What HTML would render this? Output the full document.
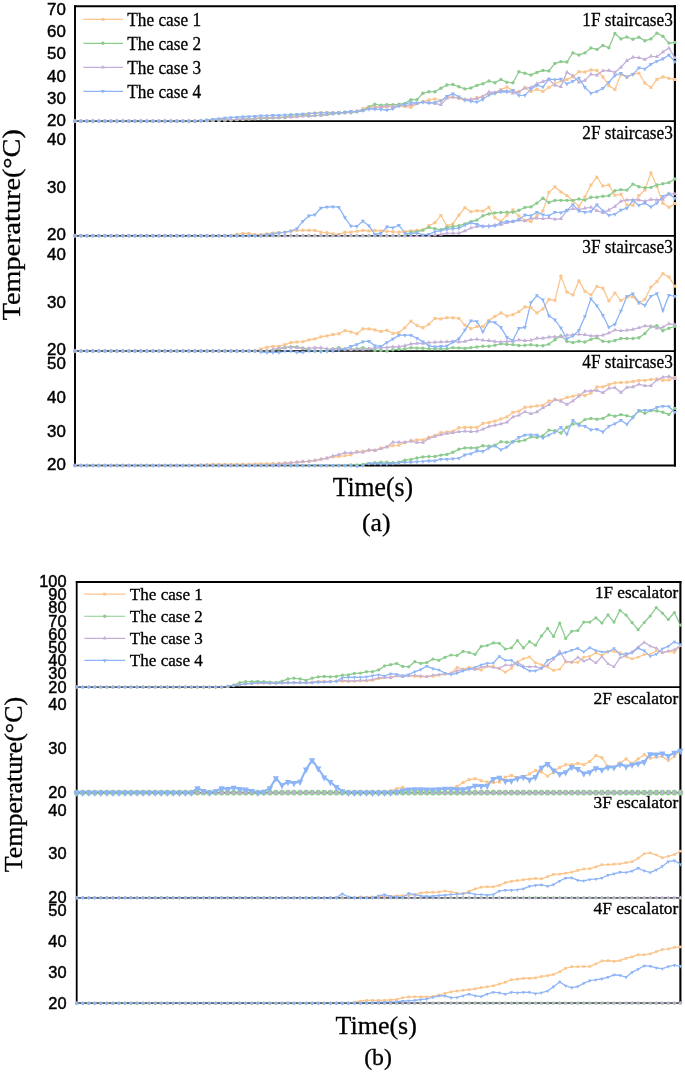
<!DOCTYPE html>
<html lang="en"><head><meta charset="utf-8"><title>Temperature vs time</title>
<style>html,body{margin:0;padding:0;background:#fff}body{width:685px;height:1072px;overflow:hidden}text{white-space:pre}</style></head>
<body>
<svg width="685" height="1072" viewBox="0 0 685 1072" style="display:block">
<rect width="685" height="1072" fill="#fff"/>
<defs>
<marker id="mo93" markerUnits="userSpaceOnUse" markerWidth="12" markerHeight="12" refX="0" refY="0" viewBox="-6 -6 12 12" orient="0" overflow="visible"><rect x="-1.5" y="-1.5" width="3" height="3" fill="#FBC58C"/></marker>
<marker id="mg93" markerUnits="userSpaceOnUse" markerWidth="12" markerHeight="12" refX="0" refY="0" viewBox="-6 -6 12 12" orient="0" overflow="visible"><circle cx="0" cy="0" r="1.7" fill="#8CCB8E"/></marker>
<marker id="mp93" markerUnits="userSpaceOnUse" markerWidth="12" markerHeight="12" refX="0" refY="0" viewBox="-6 -6 12 12" orient="0" overflow="visible"><path d="M-2 1.3L2 1.3L0 -2.5Z" fill="#C3AFD8"/></marker>
<marker id="mb93" markerUnits="userSpaceOnUse" markerWidth="12" markerHeight="12" refX="0" refY="0" viewBox="-6 -6 12 12" orient="0" overflow="visible"><path d="M-2 -1.3L2 -1.3L0 2.5Z" fill="#8DB4F6"/></marker>
<marker id="mo82" markerUnits="userSpaceOnUse" markerWidth="12" markerHeight="12" refX="0" refY="0" viewBox="-6 -6 12 12" orient="0" overflow="visible"><rect x="-1.3" y="-1.3" width="2.6" height="2.6" fill="#FBC58C"/></marker>
<marker id="mg84" markerUnits="userSpaceOnUse" markerWidth="12" markerHeight="12" refX="0" refY="0" viewBox="-6 -6 12 12" orient="0" overflow="visible"><circle cx="0" cy="0" r="1.6" fill="#8CCB8E"/></marker>
<marker id="mp82" markerUnits="userSpaceOnUse" markerWidth="12" markerHeight="12" refX="0" refY="0" viewBox="-6 -6 12 12" orient="0" overflow="visible"><path d="M-1.7 1.1L1.7 1.1L0 -2.2Z" fill="#C3AFD8"/></marker>
<marker id="mb82" markerUnits="userSpaceOnUse" markerWidth="12" markerHeight="12" refX="0" refY="0" viewBox="-6 -6 12 12" orient="0" overflow="visible"><path d="M-1.7 -1.1L1.7 -1.1L0 2.2Z" fill="#8DB4F6"/></marker>
<marker id="mg157" markerUnits="userSpaceOnUse" markerWidth="12" markerHeight="12" refX="0" refY="0" viewBox="-6 -6 12 12" orient="0" overflow="visible"><circle cx="0" cy="0" r="2.9" fill="#8CCB8E"/></marker>
<marker id="mp110" markerUnits="userSpaceOnUse" markerWidth="12" markerHeight="12" refX="0" refY="0" viewBox="-6 -6 12 12" orient="0" overflow="visible"><path d="M-2.3 1.5L2.3 1.5L0 -3Z" fill="#C3AFD8"/></marker>
<marker id="mb160" markerUnits="userSpaceOnUse" markerWidth="12" markerHeight="12" refX="0" refY="0" viewBox="-6 -6 12 12" orient="0" overflow="visible"><path d="M-3.1 -1.9L3.1 -1.9L0 4.3Z" fill="#8DB4F6"/></marker>
</defs>
<g id="series-lines">
<polyline points="74.9,121.1 80.9,121.1 86.9,121.1 92.9,121.1 98.9,121.1 104.9,121.1 110.9,121.1 116.9,121.1 122.9,121.1 128.9,121.1 134.9,121.1 140.9,121.1 146.9,121.1 152.9,121.1 158.9,121.1 164.9,121.1 170.9,121.1 176.9,121.1 182.9,121.1 188.9,121.1 194.9,121.1 200.9,120.7 206.9,120.5 212.9,120.3 218.9,120.1 224.9,119.9 230.9,119.8 236.9,119.4 242.9,119.1 248.9,118.8 254.9,118.4 260.9,118.1 266.9,117.9 272.9,117.6 278.9,117.4 284.9,117.2 290.9,116.9 296.9,116.7 302.9,115.2 308.9,113.4 314.9,113 320.9,112.6 326.9,112.6 332.9,112.6 338.9,112.5 344.9,112.2 350.9,111.6 356.9,111.3 362.9,108.7 368.9,106.9 374.9,106.9 380.9,107.4 386.9,106.9 392.9,106.4 398.9,105.7 404.9,106.4 410.9,107.4 416.9,103.4 422.9,101.7 428.9,99.9 434.9,99 440.9,100.8 446.9,97.3 452.9,96.9 458.9,98.6 464.9,100 470.9,99.4 476.9,97.7 482.9,96.5 488.9,93.3 494.9,93.3 500.9,89.6 506.9,87 512.9,90.4 518.9,92.3 524.9,87.4 530.9,91.4 536.9,89.3 542.9,91.4 548.9,87.4 554.9,83.8 560.9,80.9 566.9,79.5 572.9,76.9 578.9,71.7 584.9,72 590.9,69.9 596.9,70.4 602.9,76.9 608.9,85.7 614.9,89.5 620.9,74.3 626.9,77.4 632.9,74.3 638.9,73.1 644.9,83 650.9,87.4 656.9,79.5 662.9,76.9 668.9,78.3 674.9,79.5" fill="none" stroke="#FBC58C" stroke-width="1.15" stroke-linejoin="round"/>
<polyline points="74.9,121.1 80.9,121.1 86.9,121.1 92.9,121.1 98.9,121.1 104.9,121.1 110.9,121.1 116.9,121.1 122.9,121.1 128.9,121.1 134.9,121.1 140.9,121.1 146.9,121.1 152.9,121.1 158.9,121.1 164.9,121.1 170.9,121.1 176.9,121.1 182.9,121.1 188.9,121.1 194.9,121.1 200.9,120.7 206.9,120.5 212.9,120.4 218.9,120.3 224.9,120.1 230.9,120.1 236.9,119.7 242.9,119.4 248.9,119.1 254.9,118.7 260.9,118.4 266.9,118.2 272.9,117.9 278.9,117.7 284.9,117.5 290.9,115 296.9,114.8 302.9,114.4 308.9,116 314.9,115.6 320.9,115.2 326.9,114.6 332.9,113.9 338.9,113.2 344.9,112.2 350.9,112.7 356.9,111.6 362.9,110.4 368.9,106.9 374.9,104.3 380.9,105.3 386.9,104.6 392.9,104.6 398.9,104.3 404.9,103.4 410.9,99.6 416.9,99.6 422.9,93.3 428.9,91.7 434.9,91.7 440.9,88.2 446.9,85 452.9,84.5 458.9,86.8 464.9,88.9 470.9,88 476.9,85.4 482.9,83.7 488.9,81 494.9,82.8 500.9,79.4 506.9,82.3 512.9,82.8 518.9,71.8 524.9,73.3 530.9,75 536.9,72.4 542.9,70.4 548.9,70.9 554.9,63.4 560.9,61.6 566.9,62 572.9,52.9 578.9,55 584.9,52.9 590.9,48 596.9,49.4 602.9,45.4 608.9,47.7 614.9,33.5 620.9,38.9 626.9,37 632.9,39.3 638.9,37.2 644.9,40.7 650.9,38.9 656.9,33.1 662.9,36.3 668.9,43.1 674.9,42.4" fill="none" stroke="#8CCB8E" stroke-width="1.15" stroke-linejoin="round"/>
<polyline points="74.9,121.1 80.9,121.1 86.9,121.1 92.9,121.1 98.9,121.1 104.9,121.1 110.9,121.1 116.9,121.1 122.9,121.1 128.9,121.1 134.9,121.1 140.9,121.1 146.9,121.1 152.9,121.1 158.9,121.1 164.9,121.1 170.9,121.1 176.9,121.1 182.9,121.1 188.9,121.1 194.9,121.1 200.9,120.7 206.9,120.5 212.9,120.3 218.9,120.1 224.9,119.9 230.9,119.8 236.9,119.4 242.9,119.1 248.9,118.8 254.9,118.4 260.9,118.1 266.9,117.9 272.9,117.6 278.9,117.4 284.9,117.2 290.9,116.9 296.9,116.7 302.9,116.3 308.9,115.9 314.9,115.5 320.9,115.1 326.9,114.5 332.9,113.8 338.9,113.2 344.9,113 350.9,112.2 356.9,111.3 362.9,110.4 368.9,108.7 374.9,107.8 380.9,106.9 386.9,106 392.9,106.4 398.9,106 404.9,105.7 410.9,104.6 416.9,103.4 422.9,102 428.9,102.5 434.9,103.4 440.9,104.8 446.9,98.2 452.9,97.3 458.9,97.7 464.9,99.4 470.9,99.4 476.9,98.6 482.9,96.5 488.9,92.1 494.9,92.4 500.9,90.4 506.9,91.1 512.9,93.3 518.9,91.8 524.9,88.2 530.9,87.4 536.9,83.8 542.9,81.6 548.9,79.4 554.9,85.3 560.9,86.7 566.9,72.2 572.9,75.7 578.9,82.2 584.9,80.4 590.9,74.3 596.9,75.2 602.9,70.8 608.9,70.4 614.9,72.5 620.9,67.3 626.9,60.6 632.9,57.3 638.9,57.7 644.9,59.4 650.9,56.3 656.9,56.8 662.9,51.9 668.9,48 674.9,57.7" fill="none" stroke="#C3AFD8" stroke-width="1.15" stroke-linejoin="round"/>
<polyline points="74.9,121.1 80.9,121.1 86.9,121.1 92.9,121.1 98.9,121.1 104.9,121.1 110.9,121.1 116.9,121.1 122.9,121.1 128.9,121.1 134.9,121.1 140.9,121.1 146.9,121.1 152.9,121.1 158.9,121.1 164.9,121.1 170.9,121.1 176.9,121.1 182.9,121.1 188.9,121.1 194.9,121.1 200.9,120.7 206.9,120 212.9,119.4 218.9,118.8 224.9,118.1 230.9,117.6 236.9,117.2 242.9,116.9 248.9,116.6 254.9,116.2 260.9,115.9 266.9,115.7 272.9,115.4 278.9,115.2 284.9,115 290.9,114.7 296.9,114.5 302.9,114.1 308.9,113.7 314.9,113.3 320.9,113 326.9,112.8 332.9,112.7 338.9,112.6 344.9,112.2 350.9,111.3 356.9,111.8 362.9,110.4 368.9,109.2 374.9,109.2 380.9,109.5 386.9,110.1 392.9,108.7 398.9,105.7 404.9,104.3 410.9,102.5 416.9,103.1 422.9,102.2 428.9,103.1 434.9,102.5 440.9,100.8 446.9,96.4 452.9,93.8 458.9,96.8 464.9,100 470.9,101.2 476.9,102.1 482.9,99.4 488.9,95.1 494.9,93.3 500.9,91.8 506.9,91.8 512.9,90.4 518.9,95.5 524.9,95.2 530.9,89.3 536.9,85.3 542.9,87 548.9,79.1 554.9,79.7 560.9,79.1 566.9,83.9 572.9,81.3 578.9,78.1 584.9,87.4 590.9,93.2 596.9,91.5 602.9,88.3 608.9,82.2 614.9,75.5 620.9,73.4 626.9,76.9 632.9,74.3 638.9,67.8 644.9,69 650.9,64.3 656.9,61.2 662.9,58.9 668.9,55 674.9,61.7" fill="none" stroke="#8DB4F6" stroke-width="1.15" stroke-linejoin="round"/>
<polyline points="74.9,235.8 80.9,235.8 86.9,235.8 92.9,235.8 98.9,235.8 104.9,235.8 110.9,235.8 116.9,235.8 122.9,235.8 128.9,235.8 134.9,235.8 140.9,235.8 146.9,235.8 152.9,235.8 158.9,235.8 164.9,235.8 170.9,235.8 176.9,235.8 182.9,235.8 188.9,235.8 194.9,235.8 200.9,235.8 206.9,235.8 212.9,235.8 218.9,235.8 224.9,235.8 230.9,235.8 236.9,234.3 242.9,233.4 248.9,233.4 254.9,234.6 260.9,234.6 266.9,233.9 272.9,233.1 278.9,232.5 284.9,232.2 290.9,231.1 296.9,230.4 302.9,230.3 308.9,230.3 314.9,230.4 320.9,232.2 326.9,232.7 332.9,233.9 338.9,234.4 344.9,232.3 350.9,232.2 356.9,231.3 362.9,230.4 368.9,230.9 374.9,230.4 380.9,230.9 386.9,231.3 392.9,231.8 398.9,232.2 404.9,231.6 410.9,230.9 416.9,230.4 422.9,230.1 428.9,225.7 434.9,222.7 440.9,215.5 446.9,225.7 452.9,223.9 458.9,215.2 464.9,207.8 470.9,211.7 476.9,210.8 482.9,211.1 488.9,207.3 494.9,217.8 500.9,221.3 506.9,215.2 512.9,209.9 518.9,216 524.9,220.4 530.9,221.5 536.9,215.7 542.9,210.9 548.9,192.4 554.9,186.8 560.9,192 566.9,195.5 572.9,200.8 578.9,206.4 584.9,196.9 590.9,185 596.9,177.2 602.9,186 608.9,185 614.9,195.2 620.9,194.3 626.9,205 632.9,205.3 638.9,195.5 644.9,190.1 650.9,172.8 656.9,186.4 662.9,203.2 668.9,207.2 674.9,203.5" fill="none" stroke="#FBC58C" stroke-width="1.15" stroke-linejoin="round"/>
<polyline points="74.9,235.8 80.9,235.8 86.9,235.8 92.9,235.8 98.9,235.8 104.9,235.8 110.9,235.8 116.9,235.8 122.9,235.8 128.9,235.8 134.9,235.8 140.9,235.8 146.9,235.8 152.9,235.8 158.9,235.8 164.9,235.8 170.9,235.8 176.9,235.8 182.9,235.8 188.9,235.8 194.9,235.8 200.9,235.8 206.9,235.8 212.9,235.8 218.9,235.8 224.9,235.8 230.9,235.8 236.9,235.8 242.9,235.8 248.9,235.8 254.9,235.8 260.9,235.8 266.9,235.8 272.9,235.8 278.9,235.8 284.9,235.8 290.9,235.8 296.9,235.8 302.9,235.8 308.9,235.8 314.9,235.8 320.9,235.8 326.9,235.8 332.9,235.8 338.9,235.8 344.9,235.8 350.9,235.8 356.9,235.8 362.9,235.8 368.9,235.8 374.9,235.8 380.9,235.8 386.9,235.8 392.9,235.8 398.9,235.8 404.9,235.8 410.9,232.2 416.9,231.6 422.9,230.1 428.9,227.4 434.9,228.7 440.9,229.7 446.9,227.4 452.9,226.5 458.9,225.7 464.9,223.9 470.9,221.6 476.9,220.1 482.9,215.7 488.9,213.9 494.9,212.9 500.9,212.5 506.9,212.2 512.9,212.2 518.9,210.3 524.9,207.4 530.9,206.9 536.9,203.1 542.9,198.2 548.9,202.5 554.9,200.4 560.9,200.4 566.9,200.4 572.9,200.4 578.9,199 584.9,200.1 590.9,197.2 596.9,197.2 602.9,196.2 608.9,195.8 614.9,190.8 620.9,189.6 626.9,190.1 632.9,184.1 638.9,186.7 644.9,187.7 650.9,187.4 656.9,185 662.9,183.8 668.9,182.6 674.9,179" fill="none" stroke="#8CCB8E" stroke-width="1.15" stroke-linejoin="round"/>
<polyline points="74.9,235.8 80.9,235.8 86.9,235.8 92.9,235.8 98.9,235.8 104.9,235.8 110.9,235.8 116.9,235.8 122.9,235.8 128.9,235.8 134.9,235.8 140.9,235.8 146.9,235.8 152.9,235.8 158.9,235.8 164.9,235.8 170.9,235.8 176.9,235.8 182.9,235.8 188.9,235.8 194.9,235.8 200.9,235.8 206.9,235.8 212.9,235.8 218.9,235.8 224.9,235.8 230.9,235.8 236.9,235.8 242.9,235.8 248.9,235.8 254.9,235.8 260.9,235.8 266.9,235.8 272.9,235.8 278.9,235.8 284.9,235.8 290.9,235.8 296.9,235.8 302.9,235.8 308.9,235.8 314.9,235.8 320.9,235.8 326.9,235.8 332.9,235.8 338.9,235.8 344.9,235.8 350.9,235.8 356.9,235.8 362.9,235.8 368.9,235.8 374.9,235.8 380.9,235.8 386.9,235.8 392.9,235.8 398.9,235.8 404.9,235.8 410.9,235.8 416.9,235.8 422.9,235.8 428.9,235.8 434.9,235 440.9,234.4 446.9,233.2 452.9,233.2 458.9,233.2 464.9,230.9 470.9,228 476.9,226.5 482.9,226.2 488.9,225.7 494.9,225.1 500.9,224.8 506.9,222.7 512.9,221.6 518.9,220.1 524.9,220.9 530.9,218.3 536.9,218.3 542.9,218.7 548.9,218 554.9,219.2 560.9,218.7 566.9,210.4 572.9,208.7 578.9,209.5 584.9,208.2 590.9,207.2 596.9,210.8 602.9,212.6 608.9,210.1 614.9,206.4 620.9,201.3 626.9,199.9 632.9,199.9 638.9,199.9 644.9,201.3 650.9,199.4 656.9,199.9 662.9,199.4 668.9,194 674.9,194" fill="none" stroke="#C3AFD8" stroke-width="1.15" stroke-linejoin="round"/>
<polyline points="74.9,235.8 80.9,235.8 86.9,235.8 92.9,235.8 98.9,235.8 104.9,235.8 110.9,235.8 116.9,235.8 122.9,235.8 128.9,235.8 134.9,235.8 140.9,235.8 146.9,235.8 152.9,235.8 158.9,235.8 164.9,235.8 170.9,235.8 176.9,235.8 182.9,235.8 188.9,235.8 194.9,235.8 200.9,235.8 206.9,235.8 212.9,235.8 218.9,235.8 224.9,235.8 230.9,235.8 236.9,235.8 242.9,235.8 248.9,235.8 254.9,235.8 260.9,235.8 266.9,234.6 272.9,233.9 278.9,233.1 284.9,232.2 290.9,231.1 296.9,228.7 302.9,221.2 308.9,215.9 314.9,214.7 320.9,208 326.9,207.1 332.9,206.8 338.9,207.3 344.9,217.6 350.9,226 356.9,226.4 362.9,221.1 368.9,225.7 374.9,234.4 380.9,233.4 386.9,226.9 392.9,227.8 398.9,225.2 404.9,233 410.9,233.9 416.9,232.7 422.9,235 428.9,234.4 434.9,231.8 440.9,230.6 446.9,229.2 452.9,228.7 458.9,228.3 464.9,225.1 470.9,222.7 476.9,224.4 482.9,226.2 488.9,226.5 494.9,225.7 500.9,222.7 506.9,221.6 512.9,221.3 518.9,219.5 524.9,215.1 530.9,215.7 536.9,212.2 542.9,214.8 548.9,215.7 554.9,212.2 560.9,212.7 566.9,210.4 572.9,204.6 578.9,210.9 584.9,212.3 590.9,211.5 596.9,204.7 602.9,210.8 608.9,215.2 614.9,214.2 620.9,210.1 626.9,208.3 632.9,200.6 638.9,205.3 644.9,203.1 650.9,206.9 656.9,203.1 662.9,196.2 668.9,193.7 674.9,198.4" fill="none" stroke="#8DB4F6" stroke-width="1.15" stroke-linejoin="round"/>
<polyline points="74.9,351 80.9,351 86.9,351 92.9,351 98.9,351 104.9,351 110.9,351 116.9,351 122.9,351 128.9,351 134.9,351 140.9,351 146.9,351 152.9,351 158.9,351 164.9,351 170.9,351 176.9,351 182.9,351 188.9,351 194.9,351 200.9,351 206.9,351 212.9,351 218.9,351 224.9,351 230.9,351 236.9,351 242.9,351 248.9,351 254.9,351 260.9,349 266.9,347.3 272.9,346.4 278.9,346.4 284.9,344.7 290.9,342.6 296.9,342 302.9,341.7 308.9,339.9 314.9,338.9 320.9,336.8 326.9,335.9 332.9,334.5 338.9,333.8 344.9,330.6 350.9,332 356.9,333.8 362.9,328.9 368.9,328.9 374.9,329.9 380.9,331.5 386.9,330.3 392.9,333.4 398.9,332.6 404.9,327.7 410.9,321.2 416.9,325.4 422.9,327.7 428.9,324.2 434.9,318.4 440.9,318.9 446.9,317.7 452.9,317.8 458.9,318.3 464.9,325.1 470.9,328.7 476.9,326.5 482.9,326.5 488.9,320.4 494.9,316.4 500.9,312.9 506.9,316 512.9,314.6 518.9,311.7 524.9,306.9 530.9,307.6 536.9,312.9 542.9,309 548.9,299.4 554.9,300.3 560.9,276.1 566.9,292.1 572.9,294.9 578.9,280.9 584.9,291.3 590.9,294.9 596.9,286.5 602.9,288.3 608.9,300.9 614.9,293 620.9,300.5 626.9,297 632.9,296.7 638.9,303.2 644.9,299.3 650.9,287 656.9,281.6 662.9,273.7 668.9,276.9 674.9,286.2" fill="none" stroke="#FBC58C" stroke-width="1.15" stroke-linejoin="round"/>
<polyline points="74.9,351 80.9,351 86.9,351 92.9,351 98.9,351 104.9,351 110.9,351 116.9,351 122.9,351 128.9,351 134.9,351 140.9,351 146.9,351 152.9,351 158.9,351 164.9,351 170.9,351 176.9,351 182.9,351 188.9,351 194.9,351 200.9,351 206.9,351 212.9,351 218.9,351 224.9,351 230.9,351 236.9,351 242.9,351 248.9,351 254.9,351 260.9,351 266.9,351 272.9,351 278.9,349 284.9,347.6 290.9,346.9 296.9,346.9 302.9,348.2 308.9,349.9 314.9,351 320.9,351 326.9,351 332.9,349 338.9,347.8 344.9,349.5 350.9,349.5 356.9,348.7 362.9,347.8 368.9,348.7 374.9,350.4 380.9,350.4 386.9,351 392.9,349.9 398.9,349.2 404.9,348.7 410.9,347.8 416.9,348.1 422.9,348.3 428.9,348.7 434.9,348.7 440.9,348.7 446.9,348.7 452.9,347.6 458.9,347.9 464.9,348.4 470.9,347.6 476.9,347 482.9,346.3 488.9,346.2 494.9,345.3 500.9,343.7 506.9,344.4 512.9,344.6 518.9,345.5 524.9,345.3 530.9,344.8 536.9,345.5 542.9,345.8 548.9,344.1 554.9,339.7 560.9,335.7 566.9,341.2 572.9,342.6 578.9,341.2 584.9,342 590.9,339.4 596.9,337.8 602.9,341.2 608.9,341.7 614.9,340.5 620.9,338.5 626.9,338.5 632.9,338.5 638.9,337.8 644.9,333.5 650.9,326.8 656.9,325.6 662.9,330.7 668.9,328.2 674.9,326.3" fill="none" stroke="#8CCB8E" stroke-width="1.15" stroke-linejoin="round"/>
<polyline points="74.9,351 80.9,351 86.9,351 92.9,351 98.9,351 104.9,351 110.9,351 116.9,351 122.9,351 128.9,351 134.9,351 140.9,351 146.9,351 152.9,351 158.9,351 164.9,351 170.9,351 176.9,351 182.9,351 188.9,351 194.9,351 200.9,351 206.9,351 212.9,351 218.9,351 224.9,351 230.9,351 236.9,351 242.9,351 248.9,351 254.9,351 260.9,351 266.9,351 272.9,349.4 278.9,348.2 284.9,347.6 290.9,347.3 296.9,347.6 302.9,348.2 308.9,348.2 314.9,347.8 320.9,347.8 326.9,348.7 332.9,349 338.9,348.7 344.9,349 350.9,349.5 356.9,349.2 362.9,349.5 368.9,348.7 374.9,347.8 380.9,347.8 386.9,347.4 392.9,346.9 398.9,346.6 404.9,345.7 410.9,343.9 416.9,343.4 422.9,343.4 428.9,342.5 434.9,342.2 440.9,342 446.9,341.7 452.9,341.4 458.9,342 464.9,341.4 470.9,339.7 476.9,339.2 482.9,340.2 488.9,340.6 494.9,341.4 500.9,342 506.9,341.4 512.9,341.4 518.9,340 524.9,340.6 530.9,340.2 536.9,338.3 542.9,338.3 548.9,337.1 554.9,336.7 560.9,336.7 566.9,335.2 572.9,334.7 578.9,334.2 584.9,334.7 590.9,335.9 596.9,335.9 602.9,335.2 608.9,332.9 614.9,330 620.9,330.8 626.9,330.3 632.9,329.4 638.9,327.7 644.9,325.9 650.9,326.3 656.9,328.2 662.9,327.3 668.9,323.8 674.9,324.7" fill="none" stroke="#C3AFD8" stroke-width="1.15" stroke-linejoin="round"/>
<polyline points="74.9,351 80.9,351 86.9,351 92.9,351 98.9,351 104.9,351 110.9,351 116.9,351 122.9,351 128.9,351 134.9,351 140.9,351 146.9,351 152.9,351 158.9,351 164.9,351 170.9,351 176.9,351 182.9,351 188.9,351 194.9,351 200.9,351 206.9,351 212.9,351 218.9,351 224.9,351 230.9,351 236.9,351 242.9,351 248.9,351 254.9,351 260.9,352 266.9,352.5 272.9,352.5 278.9,352.5 284.9,351 290.9,351 296.9,352.2 302.9,352.2 308.9,351 314.9,351 320.9,351.7 326.9,351 332.9,351 338.9,350.1 344.9,349 350.9,346.4 356.9,344.6 362.9,341.7 368.9,341.3 374.9,345.7 380.9,346.4 386.9,342.5 392.9,339 398.9,335.2 404.9,335.2 410.9,335.2 416.9,338.2 422.9,341.7 428.9,345.7 434.9,346.9 440.9,346.4 446.9,346 452.9,342 458.9,338.8 464.9,330.1 470.9,320.8 476.9,321.6 482.9,331.8 488.9,321.6 494.9,322.5 500.9,327.4 506.9,337.4 512.9,340.6 518.9,328.3 524.9,327.4 530.9,302.6 536.9,295.6 542.9,299.9 548.9,315.7 554.9,319.9 560.9,328 566.9,338.7 572.9,335.9 578.9,330.3 584.9,316.6 590.9,298.8 596.9,305.8 602.9,315.4 608.9,327.2 614.9,324.2 620.9,311 626.9,296.5 632.9,293.9 638.9,302.3 644.9,305.4 650.9,296.2 656.9,293.5 662.9,310.7 668.9,295.3 674.9,296.2" fill="none" stroke="#8DB4F6" stroke-width="1.15" stroke-linejoin="round"/>
<polyline points="74.9,465.5 80.9,465.5 86.9,465.5 92.9,465.5 98.9,465.5 104.9,465.5 110.9,465.5 116.9,465.5 122.9,465.5 128.9,465.5 134.9,465.5 140.9,465.5 146.9,465.5 152.9,465.5 158.9,465.5 164.9,465.5 170.9,465.5 176.9,465.5 182.9,465.5 188.9,465.5 194.9,465.5 200.9,465 206.9,464.6 212.9,464.4 218.9,464.4 224.9,464.4 230.9,464.4 236.9,464.4 242.9,464.3 248.9,464.3 254.9,464.1 260.9,463.9 266.9,463.7 272.9,463.6 278.9,463.4 284.9,463 290.9,462.7 296.9,462.2 302.9,461.6 308.9,461.3 314.9,460.4 320.9,459.2 326.9,458.1 332.9,456.9 338.9,456.4 344.9,455.7 350.9,454.8 356.9,451.6 362.9,451.3 368.9,450.4 374.9,450.4 380.9,448.1 386.9,446.9 392.9,445.7 398.9,445.2 404.9,442.5 410.9,440.8 416.9,439.9 422.9,439.9 428.9,437.3 434.9,435.5 440.9,432.6 446.9,432 452.9,431.2 458.9,427.7 464.9,427.4 470.9,427.4 476.9,427.4 482.9,423.4 488.9,422.5 494.9,421.1 500.9,419 506.9,416.9 512.9,412.4 518.9,411.2 524.9,407.3 530.9,406.8 536.9,405.9 542.9,405.4 548.9,401 554.9,399.8 560.9,400.1 566.9,397.4 572.9,396.2 578.9,394.8 584.9,395.6 590.9,393 596.9,386.9 602.9,386.9 608.9,384.6 614.9,382.9 620.9,382.5 626.9,382.2 632.9,381.6 638.9,380.4 644.9,380.4 650.9,379.5 656.9,379 662.9,380.4 668.9,379.9 674.9,377.6" fill="none" stroke="#FBC58C" stroke-width="1.15" stroke-linejoin="round"/>
<polyline points="74.9,465.5 80.9,465.5 86.9,465.5 92.9,465.5 98.9,465.5 104.9,465.5 110.9,465.5 116.9,465.5 122.9,465.5 128.9,465.5 134.9,465.5 140.9,465.5 146.9,465.5 152.9,465.5 158.9,465.5 164.9,465.5 170.9,465.5 176.9,465.5 182.9,465.5 188.9,465.5 194.9,465.5 200.9,465.5 206.9,465.5 212.9,465.5 218.9,465.5 224.9,465.5 230.9,465.5 236.9,465.5 242.9,465.5 248.9,465.5 254.9,465.5 260.9,465.5 266.9,465.5 272.9,465.5 278.9,465.5 284.9,465.5 290.9,465.5 296.9,465.5 302.9,465.5 308.9,465.5 314.9,465.5 320.9,465.5 326.9,465.5 332.9,465.5 338.9,465.5 344.9,465.5 350.9,465 356.9,465 362.9,464.4 368.9,463.6 374.9,462.7 380.9,462.2 386.9,462.2 392.9,462.7 398.9,462.2 404.9,460.1 410.9,459.5 416.9,458 422.9,456.9 428.9,456.5 434.9,456.5 440.9,455.1 446.9,454.4 452.9,452.2 458.9,449.2 464.9,447.9 470.9,447.9 476.9,447.9 482.9,445.8 488.9,446.2 494.9,445.3 500.9,441.8 506.9,442.3 512.9,441.8 518.9,441.3 524.9,440.1 530.9,436.9 536.9,437.4 542.9,435.7 548.9,430.1 554.9,430.8 560.9,433 566.9,427.2 572.9,424 578.9,424 584.9,419.6 590.9,418.4 596.9,419.3 602.9,418.4 608.9,414.9 614.9,416.3 620.9,414.6 626.9,415.8 632.9,417 638.9,410.9 644.9,413.2 650.9,410.5 656.9,410.9 662.9,412.3 668.9,414.6 674.9,408.4" fill="none" stroke="#8CCB8E" stroke-width="1.15" stroke-linejoin="round"/>
<polyline points="74.9,465.5 80.9,465.5 86.9,465.5 92.9,465.5 98.9,465.5 104.9,465.5 110.9,465.5 116.9,465.5 122.9,465.5 128.9,465.5 134.9,465.5 140.9,465.5 146.9,465.5 152.9,465.5 158.9,465.5 164.9,465.5 170.9,465.5 176.9,465.5 182.9,465.5 188.9,465.5 194.9,465.5 200.9,465.5 206.9,465.5 212.9,465.5 218.9,465.5 224.9,465.5 230.9,465.5 236.9,465.5 242.9,465.5 248.9,465.5 254.9,465.5 260.9,465.5 266.9,465.5 272.9,464.8 278.9,464.1 284.9,463.4 290.9,462.9 296.9,462.2 302.9,461.6 308.9,461.3 314.9,460.4 320.9,459.2 326.9,458.1 332.9,456 338.9,454.6 344.9,452.7 350.9,453 356.9,452.2 362.9,452.2 368.9,449.9 374.9,450.4 380.9,448.7 386.9,446.9 392.9,442.2 398.9,442.2 404.9,442.2 410.9,441.1 416.9,442.5 422.9,442.5 428.9,438.2 434.9,436.4 440.9,434.7 446.9,433.4 452.9,432.6 458.9,431.7 464.9,431.3 470.9,431.6 476.9,431.3 482.9,429.2 488.9,426.4 494.9,425.2 500.9,423.9 506.9,422.2 512.9,416.9 518.9,415.2 524.9,411.7 530.9,413.8 536.9,412 542.9,407.7 548.9,404.7 554.9,399.4 560.9,401.2 566.9,404.4 572.9,400.9 578.9,396.2 584.9,391.3 590.9,390.9 596.9,390.4 602.9,392.7 608.9,388.3 614.9,387.8 620.9,392.5 626.9,387.4 632.9,386.9 638.9,384.3 644.9,385.7 650.9,385.7 656.9,379.9 662.9,377.3 668.9,376.4 674.9,378.7" fill="none" stroke="#C3AFD8" stroke-width="1.15" stroke-linejoin="round"/>
<polyline points="74.9,465.5 80.9,465.5 86.9,465.5 92.9,465.5 98.9,465.5 104.9,465.5 110.9,465.5 116.9,465.5 122.9,465.5 128.9,465.5 134.9,465.5 140.9,465.5 146.9,465.5 152.9,465.5 158.9,465.5 164.9,465.5 170.9,465.5 176.9,465.5 182.9,465.5 188.9,465.5 194.9,465.5 200.9,465.5 206.9,465.5 212.9,465.5 218.9,465.5 224.9,465.5 230.9,465.5 236.9,465.5 242.9,465.5 248.9,465.5 254.9,465.5 260.9,465.5 266.9,465.5 272.9,465.5 278.9,465.5 284.9,465.5 290.9,465.5 296.9,465.5 302.9,465.5 308.9,465.5 314.9,465.5 320.9,465.5 326.9,465.5 332.9,465.5 338.9,465.5 344.9,465.5 350.9,465.5 356.9,466.2 362.9,465.5 368.9,463.2 374.9,463.6 380.9,463.9 386.9,463.9 392.9,463.2 398.9,462.7 404.9,462.2 410.9,462.2 416.9,461.8 422.9,461.5 428.9,460.9 434.9,460.9 440.9,459.2 446.9,459.2 452.9,458.7 458.9,458.3 464.9,454.9 470.9,453.7 476.9,450.9 482.9,451.4 488.9,447.9 494.9,445.7 500.9,449.7 506.9,447.1 512.9,441.8 518.9,437.4 524.9,435.1 530.9,434.8 536.9,435.1 542.9,438 548.9,435.1 554.9,432.2 560.9,427.4 566.9,434.2 572.9,420.2 578.9,425.4 584.9,426.3 590.9,429.8 596.9,429.3 602.9,431.9 608.9,426.3 614.9,423.7 620.9,420.2 626.9,424.2 632.9,417.5 638.9,410.5 644.9,410.2 650.9,410.2 656.9,407.4 662.9,406.2 668.9,406.5 674.9,412.3" fill="none" stroke="#8DB4F6" stroke-width="1.15" stroke-linejoin="round"/>
<polyline points="76.7,687 82.7,687 88.8,687 94.8,687 100.8,687 106.9,687 112.9,687 119,687 125,687 131,687 137.1,687 143.1,687 149.1,687 155.2,687 161.2,687 167.3,687 173.3,687 179.3,687 185.4,687 191.4,687 197.4,687 203.5,687 209.5,687 215.6,687 221.6,687 227.6,686.4 233.7,685.5 239.7,684.7 245.7,683.8 251.8,683.4 257.8,682.9 263.8,682.9 269.9,683.1 275.9,683.1 282,682.9 288,682.7 294,682.6 300.1,682.6 306.1,682.7 312.1,682 318.2,681.3 324.2,681.2 330.3,681.3 336.3,681.2 342.3,681.3 348.4,681.6 354.4,681.3 360.4,680.8 366.5,680.9 372.5,680.4 378.6,678.7 384.6,677.8 390.6,676.9 396.7,676 402.7,676 408.7,676 414.8,676.4 420.8,676.9 426.8,676.4 432.9,676.4 438.9,675.2 445,674.3 451,673.1 457,667.4 463.1,669.2 469.1,667.4 475.1,668.7 481.2,670.1 487.2,666.2 493.3,666.5 499.3,668.7 505.3,672.2 511.4,668.3 517.4,662.2 523.4,658.7 529.5,656.9 535.5,662.7 541.5,664.8 547.6,666.9 553.6,670.4 559.7,669.2 565.7,661.9 571.7,662.4 577.8,662.4 583.8,657.2 589.8,656.3 595.9,652.8 601.9,655.4 608,651.4 614,651.4 620,652.8 626.1,656.6 632.1,658.9 638.1,657.2 644.2,654.5 650.2,654.5 656.3,650.7 662.3,652.4 668.3,651.4 674.4,652.4 680.4,645.8" fill="none" stroke="#FBC58C" stroke-width="1.15" stroke-linejoin="round"/>
<polyline points="76.7,687 82.7,687 88.8,687 94.8,687 100.8,687 106.9,687 112.9,687 119,687 125,687 131,687 137.1,687 143.1,687 149.1,687 155.2,687 161.2,687 167.3,687 173.3,687 179.3,687 185.4,687 191.4,687 197.4,687 203.5,687 209.5,687 215.6,687 221.6,687 227.6,686.4 233.7,685.2 239.7,682.6 245.7,681.7 251.8,681.5 257.8,681.3 263.8,681.7 269.9,682 275.9,682.6 282,681.2 288,678.9 294,678.2 300.1,678.9 306.1,680.3 312.1,678.2 318.2,676.8 324.2,676.4 330.3,676.8 336.3,676.4 342.3,675.2 348.4,674.8 354.4,673.4 360.4,673.1 366.5,671.7 372.5,671.7 378.6,669.9 384.6,665.9 390.6,664.7 396.7,663.4 402.7,666.4 408.7,666.8 414.8,661.7 420.8,663.4 426.8,662.6 432.9,659.1 438.9,660.3 445,657.3 451,655 457,655.5 463.1,651.3 469.1,652.5 475.1,654.3 481.2,646.4 487.2,645.5 493.3,642.9 499.3,643.3 505.3,649 511.4,647.8 517.4,640.6 523.4,647.8 529.5,641.7 535.5,645.2 541.5,635.9 547.6,628.4 553.6,636.4 559.7,623.1 565.7,638.4 571.7,631.3 577.8,630.6 583.8,622.1 589.8,622.1 595.9,617.8 601.9,623 608,614.8 614,622.1 620,610.4 626.1,615.1 632.1,622.7 638.1,629.7 644.2,622.5 650.2,616 656.3,607.6 662.3,613 668.3,619.5 674.4,612.5 680.4,625.1" fill="none" stroke="#8CCB8E" stroke-width="1.15" stroke-linejoin="round"/>
<polyline points="76.7,687 82.7,687 88.8,687 94.8,687 100.8,687 106.9,687 112.9,687 119,687 125,687 131,687 137.1,687 143.1,687 149.1,687 155.2,687 161.2,687 167.3,687 173.3,687 179.3,687 185.4,687 191.4,687 197.4,687 203.5,687 209.5,687 215.6,687 221.6,687 227.6,686.4 233.7,685.5 239.7,684.7 245.7,683.8 251.8,683.4 257.8,682.9 263.8,682.9 269.9,683.1 275.9,683.1 282,682.9 288,682.7 294,682.6 300.1,682.6 306.1,682.7 312.1,682.6 318.2,682.2 324.2,682 330.3,681.7 336.3,681.2 342.3,680.4 348.4,680.9 354.4,680.9 360.4,680.4 366.5,680.4 372.5,679.5 378.6,677.8 384.6,677.4 390.6,677.8 396.7,676 402.7,676.9 408.7,675.7 414.8,675.2 420.8,676 426.8,676.9 432.9,675.2 438.9,674.6 445,673.9 451,673.4 457,670.6 463.1,669.7 469.1,668.7 475.1,669.7 481.2,667.1 487.2,666.2 493.3,667.4 499.3,668.3 505.3,665.1 511.4,665.3 517.4,662.2 523.4,666.2 529.5,666.9 535.5,666.5 541.5,668.3 547.6,665.1 553.6,659.2 559.7,651.1 565.7,661.2 571.7,662.1 577.8,657.2 583.8,661.2 589.8,658.9 595.9,663 601.9,656.6 608,663.7 614,666.8 620,658 626.1,655.4 632.1,651.9 638.1,647.2 644.2,642.3 650.2,646.1 656.3,648.1 662.3,652.8 668.3,651 674.4,649.8 680.4,645.4" fill="none" stroke="#C3AFD8" stroke-width="1.15" stroke-linejoin="round"/>
<polyline points="76.7,687 82.7,687 88.8,687 94.8,687 100.8,687 106.9,687 112.9,687 119,687 125,687 131,687 137.1,687 143.1,687 149.1,687 155.2,687 161.2,687 167.3,687 173.3,687 179.3,687 185.4,687 191.4,687 197.4,687 203.5,687 209.5,687 215.6,687 221.6,687 227.6,686.4 233.7,685.5 239.7,684.7 245.7,683.8 251.8,683.4 257.8,682.9 263.8,682.9 269.9,683.1 275.9,683.1 282,682.9 288,682.7 294,682.6 300.1,682.6 306.1,682.7 312.1,682.6 318.2,682.2 324.2,682 330.3,681.7 336.3,681.2 342.3,677.8 348.4,677.4 354.4,677.4 360.4,677.3 366.5,676.9 372.5,675.7 378.6,674.8 384.6,676 390.6,673.8 396.7,674.3 402.7,675.7 408.7,674.6 414.8,671.7 420.8,669.6 426.8,666.1 432.9,668.7 438.9,669.9 445,673.1 451,674.6 457,673.2 463.1,670.9 469.1,669.2 475.1,667.4 481.2,664.8 487.2,663.4 493.3,663 499.3,656.4 505.3,660.4 511.4,660.4 517.4,664.8 523.4,667.4 529.5,670.9 535.5,670.9 541.5,668 547.6,660.4 553.6,657.8 559.7,653.9 565.7,652.4 571.7,650.2 577.8,648.4 583.8,651.9 589.8,647.5 595.9,650.7 601.9,651.9 608,651.9 614,648.4 620,654.5 626.1,653.7 632.1,652.8 638.1,648.1 644.2,650.7 650.2,656.3 656.3,654.2 662.3,648.9 668.3,646.3 674.4,641.8 680.4,644.6" fill="none" stroke="#8DB4F6" stroke-width="1.15" stroke-linejoin="round"/>
<polyline points="76.7,792.6 82.7,792.6 88.8,792.6 94.8,792.6 100.8,792.6 106.9,792.6 112.9,792.6 119,792.6 125,792.6 131,792.6 137.1,792.6 143.1,792.6 149.1,792.6 155.2,792.6 161.2,792.6 167.3,792.6 173.3,792.6 179.3,792.6 185.4,792.6 191.4,792.6 197.4,792.6 203.5,792.6 209.5,792.6 215.6,792.6 221.6,792.6 227.6,792.6 233.7,792.6 239.7,792.6 245.7,792.6 251.8,792.6 257.8,792.6 263.8,792.6 269.9,792.6 275.9,792.6 282,792.6 288,792.6 294,792.6 300.1,792.6 306.1,792.6 312.1,792.6 318.2,792.6 324.2,792.6 330.3,792.6 336.3,792.6 342.3,792.6 348.4,792.6 354.4,792.6 360.4,792.6 366.5,792.6 372.5,792.6 378.6,792.6 384.6,792.6 390.6,790.8 396.7,788.7 402.7,787.4 408.7,789.5 414.8,789.9 420.8,789.9 426.8,789.9 432.9,789.9 438.9,789.5 445,789.2 451,788.7 457,786.4 463.1,782.5 469.1,779.6 475.1,778.7 481.2,780.8 487.2,782 493.3,782.5 499.3,782 505.3,777.2 511.4,775.4 517.4,777.5 523.4,776.7 529.5,774 535.5,770.5 541.5,771.9 547.6,776.1 553.6,772.3 559.7,767.4 565.7,764.7 571.7,764.7 577.8,763.4 583.8,764.7 589.8,761.5 595.9,755.6 601.9,757.7 608,766.4 614,767.3 620,762.9 626.1,758.9 632.1,763.4 638.1,758.9 644.2,754.7 650.2,758.2 656.3,757.1 662.3,756.4 668.3,760.3 674.4,756.4 680.4,750.6" fill="none" stroke="#FBC58C" stroke-width="1.15" stroke-linejoin="round"/>
<polyline points="76.7,792.6 82.7,792.6 88.8,792.6 94.8,792.6 100.8,792.6 106.9,792.6 112.9,792.6 119,792.6 125,792.6 131,792.6 137.1,792.6 143.1,792.6 149.1,792.6 155.2,792.6 161.2,792.6 167.3,792.6 173.3,792.6 179.3,792.6 185.4,792.6 191.4,792.6 197.4,792.6 203.5,792.6 209.5,792.6 215.6,792.6 221.6,792.6 227.6,792.6 233.7,792.6 239.7,792.6 245.7,792.6 251.8,792.6 257.8,792.6 263.8,792.6 269.9,792.6 275.9,792.6 282,792.6 288,792.6 294,792.6 300.1,792.6 306.1,792.6 312.1,792.6 318.2,792.6 324.2,792.6 330.3,792.6 336.3,792.6 342.3,792.6 348.4,792.6 354.4,792.6 360.4,792.6 366.5,792.6 372.5,792.6 378.6,792.6 384.6,792.6 390.6,792.6 396.7,792.6 402.7,792.6 408.7,792.6 414.8,792.6 420.8,792.6 426.8,792.6 432.9,792.6 438.9,792.6 445,792.6 451,792.6 457,792.6 463.1,792.6 469.1,792.6 475.1,792.6 481.2,792.6 487.2,792.6 493.3,792.6 499.3,792.6 505.3,792.6 511.4,792.6 517.4,792.6 523.4,792.6 529.5,792.6 535.5,792.6 541.5,792.6 547.6,792.6 553.6,792.6 559.7,792.6 565.7,792.6 571.7,792.6 577.8,792.6 583.8,792.6 589.8,792.6 595.9,792.6 601.9,792.6 608,792.6 614,792.6 620,792.6 626.1,792.6 632.1,792.6 638.1,792.6 644.2,792.6 650.2,792.6 656.3,792.6 662.3,792.6 668.3,792.6 674.4,792.6 680.4,792.6" fill="none" stroke="#8CCB8E" stroke-width="1.15" stroke-linejoin="round"/>
<polyline points="76.7,792.6 82.7,792.6 88.8,792.6 94.8,792.6 100.8,792.6 106.9,792.6 112.9,792.6 119,792.6 125,792.6 131,792.6 137.1,792.6 143.1,792.6 149.1,792.6 155.2,792.6 161.2,792.6 167.3,792.6 173.3,792.6 179.3,792.6 185.4,792.6 191.4,792.6 197.4,792.6 203.5,792.6 209.5,792.6 215.6,792.6 221.6,792.6 227.6,792.6 233.7,792.6 239.7,792.6 245.7,792.6 251.8,792.6 257.8,792.6 263.8,792.6 269.9,792.6 275.9,792.6 282,792.6 288,792.6 294,792.6 300.1,792.6 306.1,792.6 312.1,792.6 318.2,792.6 324.2,792.6 330.3,792.6 336.3,792.6 342.3,792.6 348.4,792.6 354.4,792.6 360.4,792.6 366.5,792.6 372.5,792.6 378.6,792.6 384.6,792.6 390.6,792.6 396.7,792.6 402.7,792.6 408.7,792.6 414.8,792.6 420.8,792.6 426.8,792.6 432.9,792.6 438.9,792.6 445,792.6 451,792.6 457,792.6 463.1,792.6 469.1,792.6 475.1,792.6 481.2,792.6 487.2,792.6 493.3,792.6 499.3,792.6 505.3,792.6 511.4,792.6 517.4,792.6 523.4,792.6 529.5,792.6 535.5,792.6 541.5,792.6 547.6,792.6 553.6,792.6 559.7,792.6 565.7,792.6 571.7,792.6 577.8,792.6 583.8,792.6 589.8,792.6 595.9,792.6 601.9,792.6 608,792.6 614,792.6 620,792.6 626.1,792.6 632.1,792.6 638.1,792.6 644.2,792.6 650.2,792.6 656.3,792.6 662.3,792.6 668.3,792.6 674.4,792.6 680.4,792.6" fill="none" stroke="#C3AFD8" stroke-width="1.15" stroke-linejoin="round"/>
<polyline points="76.7,792.6 82.7,792.6 88.8,792.6 94.8,792.6 100.8,792.6 106.9,792.6 112.9,792.6 119,792.6 125,792.6 131,792.6 137.1,792.6 143.1,792.6 149.1,792.6 155.2,792.6 161.2,792.6 167.3,792.6 173.3,792.6 179.3,792.6 185.4,792.6 191.4,792.6 197.4,788.2 203.5,790.8 209.5,792.6 215.6,791.1 221.6,788.2 227.6,789 233.7,787.6 239.7,789 245.7,789.4 251.8,790.8 257.8,792.6 263.8,791.7 269.9,788.2 275.9,778.2 282,785.2 288,782 294,782.9 300.1,781.7 306.1,769.4 312.1,760.1 318.2,768.5 324.2,777.3 330.3,782 336.3,786.9 342.3,791.1 348.4,792.6 354.4,792.6 360.4,792.6 366.5,792.6 372.5,792.6 378.6,792.6 384.6,792.6 390.6,792.6 396.7,791.6 402.7,790.4 408.7,789.5 414.8,789.2 420.8,789.2 426.8,789.5 432.9,789.5 438.9,789.2 445,788.7 451,788.7 457,789.2 463.1,789.2 469.1,788.1 475.1,785.7 481.2,786 487.2,785.7 493.3,779 499.3,777.6 505.3,781 511.4,780.7 517.4,778.4 523.4,777 529.5,779.6 535.5,777 541.5,767.6 547.6,763.9 553.6,770.5 559.7,774 565.7,772.2 571.7,766.9 577.8,769 583.8,773.4 589.8,772.2 595.9,768.2 601.9,769.6 608,767.3 614,767.3 620,764.3 626.1,766.4 632.1,764.7 638.1,763.4 644.2,762 650.2,754.2 656.3,754.5 662.3,753.3 668.3,755.9 674.4,752.7 680.4,750.6" fill="none" stroke="#8DB4F6" stroke-width="2.0" stroke-linejoin="round"/>
<polyline points="76.7,897.8 82.7,897.8 88.8,897.8 94.8,897.8 100.8,897.8 106.9,897.8 112.9,897.8 119,897.8 125,897.8 131,897.8 137.1,897.8 143.1,897.8 149.1,897.8 155.2,897.8 161.2,897.8 167.3,897.8 173.3,897.8 179.3,897.8 185.4,897.8 191.4,897.8 197.4,897.8 203.5,897.8 209.5,897.8 215.6,897.8 221.6,897.8 227.6,897.8 233.7,897.8 239.7,897.8 245.7,897.8 251.8,897.8 257.8,897.8 263.8,897.8 269.9,897.8 275.9,897.8 282,897.8 288,897.8 294,897.8 300.1,897.8 306.1,897.8 312.1,897.8 318.2,897.8 324.2,897.8 330.3,897.8 336.3,897.8 342.3,897.8 348.4,897.8 354.4,897.8 360.4,896.9 366.5,897.3 372.5,896.9 378.6,896.4 384.6,895.9 390.6,896.4 396.7,895.9 402.7,895.5 408.7,895.2 414.8,894.7 420.8,892.9 426.8,892.4 432.9,892.4 438.9,892 445,891 451,891.9 457,893.1 463.1,893.7 469.1,891.4 475.1,888.9 481.2,887.2 487.2,886.8 493.3,886.8 499.3,885.4 505.3,882.6 511.4,881.4 517.4,880.5 523.4,879.7 529.5,879.1 535.5,878.4 541.5,878.8 547.6,876.7 553.6,874.4 559.7,874.1 565.7,873.1 571.7,872.2 577.8,870.4 583.8,869 589.8,868.7 595.9,866.9 601.9,864.7 608,864.7 614,864.1 620,863.8 626.1,862.6 632.1,861.7 638.1,858.2 644.2,853.8 650.2,852.9 656.3,855 662.3,857.7 668.3,856.3 674.4,854.5 680.4,851.2" fill="none" stroke="#FBC58C" stroke-width="1.15" stroke-linejoin="round"/>
<polyline points="76.7,897.8 82.7,897.8 88.8,897.8 94.8,897.8 100.8,897.8 106.9,897.8 112.9,897.8 119,897.8 125,897.8 131,897.8 137.1,897.8 143.1,897.8 149.1,897.8 155.2,897.8 161.2,897.8 167.3,897.8 173.3,897.8 179.3,897.8 185.4,897.8 191.4,897.8 197.4,897.8 203.5,897.8 209.5,897.8 215.6,897.8 221.6,897.8 227.6,897.8 233.7,897.8 239.7,897.8 245.7,897.8 251.8,897.8 257.8,897.8 263.8,897.8 269.9,897.8 275.9,897.8 282,897.8 288,897.8 294,897.8 300.1,897.8 306.1,897.8 312.1,897.8 318.2,897.8 324.2,897.8 330.3,897.8 336.3,897.8 342.3,897.8 348.4,897.8 354.4,897.8 360.4,897.8 366.5,897.8 372.5,897.8 378.6,897.8 384.6,897.8 390.6,897.8 396.7,897.8 402.7,897.8 408.7,897.8 414.8,897.8 420.8,897.8 426.8,897.8 432.9,897.8 438.9,897.8 445,897.8 451,897.8 457,897.8 463.1,897.8 469.1,897.8 475.1,897.8 481.2,897.8 487.2,897.8 493.3,897.8 499.3,897.8 505.3,897.8 511.4,897.8 517.4,897.8 523.4,897.8 529.5,897.8 535.5,897.8 541.5,897.8 547.6,897.8 553.6,897.8 559.7,897.8 565.7,897.8 571.7,897.8 577.8,897.8 583.8,897.8 589.8,897.8 595.9,897.8 601.9,897.8 608,897.8 614,897.8 620,897.8 626.1,897.8 632.1,897.8 638.1,897.8 644.2,897.8 650.2,897.8 656.3,897.8 662.3,897.8 668.3,897.8 674.4,897.8 680.4,897.8" fill="none" stroke="#8CCB8E" stroke-width="1.15" stroke-linejoin="round"/>
<polyline points="76.7,897.8 82.7,897.8 88.8,897.8 94.8,897.8 100.8,897.8 106.9,897.8 112.9,897.8 119,897.8 125,897.8 131,897.8 137.1,897.8 143.1,897.8 149.1,897.8 155.2,897.8 161.2,897.8 167.3,897.8 173.3,897.8 179.3,897.8 185.4,897.8 191.4,897.8 197.4,897.8 203.5,897.8 209.5,897.8 215.6,897.8 221.6,897.8 227.6,897.8 233.7,897.8 239.7,897.8 245.7,897.8 251.8,897.8 257.8,897.8 263.8,897.8 269.9,897.8 275.9,897.8 282,897.8 288,897.8 294,897.8 300.1,897.8 306.1,897.8 312.1,897.8 318.2,897.8 324.2,897.8 330.3,897.8 336.3,897.8 342.3,897.8 348.4,897.8 354.4,897.8 360.4,897.8 366.5,897.8 372.5,897.8 378.6,897.8 384.6,897.8 390.6,897.8 396.7,897.8 402.7,897.8 408.7,897.8 414.8,897.8 420.8,897.8 426.8,897.8 432.9,897.8 438.9,897.8 445,897.8 451,897.8 457,897.8 463.1,897.8 469.1,897.8 475.1,897.8 481.2,897.8 487.2,897.8 493.3,897.8 499.3,897.8 505.3,897.8 511.4,897.8 517.4,897.8 523.4,897.8 529.5,897.8 535.5,897.8 541.5,897.8 547.6,897.8 553.6,897.8 559.7,897.8 565.7,897.8 571.7,897.8 577.8,897.8 583.8,897.8 589.8,897.8 595.9,897.8 601.9,897.8 608,897.8 614,897.8 620,897.8 626.1,897.8 632.1,897.8 638.1,897.8 644.2,897.8 650.2,897.8 656.3,897.8 662.3,897.8 668.3,897.8 674.4,897.8 680.4,897.8" fill="none" stroke="#C3AFD8" stroke-width="1.15" stroke-linejoin="round"/>
<polyline points="76.7,897.8 82.7,897.8 88.8,897.8 94.8,897.8 100.8,897.8 106.9,897.8 112.9,897.8 119,897.8 125,897.8 131,897.8 137.1,897.8 143.1,897.8 149.1,897.8 155.2,897.8 161.2,897.8 167.3,897.8 173.3,897.8 179.3,897.8 185.4,897.8 191.4,897.8 197.4,897.8 203.5,897.8 209.5,897.8 215.6,897.8 221.6,897.8 227.6,897.8 233.7,897.8 239.7,897.8 245.7,897.8 251.8,897.8 257.8,897.8 263.8,897.8 269.9,897.8 275.9,897.8 282,897.8 288,897.8 294,897.8 300.1,897.8 306.1,897.8 312.1,897.8 318.2,897.8 324.2,897.8 330.3,897.8 336.3,897.8 342.3,893.8 348.4,896.9 354.4,897.8 360.4,897.8 366.5,897.8 372.5,897.8 378.6,895.9 384.6,894.7 390.6,896.4 396.7,896.9 402.7,897.3 408.7,893.4 414.8,894.7 420.8,895.9 426.8,896.4 432.9,896.1 438.9,895.5 445,895.1 451,894.5 457,894.2 463.1,893.7 469.1,892.8 475.1,894.5 481.2,894.5 487.2,895.1 493.3,894.5 499.3,891 505.3,890.2 511.4,890.2 517.4,889.8 523.4,888.9 529.5,886.3 535.5,885.4 541.5,884.9 547.6,886.3 553.6,884.6 559.7,881.1 565.7,878.1 571.7,877.8 577.8,880.4 583.8,880.9 589.8,879.5 595.9,879 601.9,878.1 608,875.2 614,873.9 620,872.2 626.1,872.5 632.1,871.1 638.1,868.2 644.2,870.8 650.2,872.5 656.3,869.9 662.3,866.4 668.3,861.7 674.4,860.6 680.4,864.3" fill="none" stroke="#8DB4F6" stroke-width="1.15" stroke-linejoin="round"/>
<polyline points="76.7,1003.2 82.7,1003.2 88.8,1003.2 94.8,1003.2 100.8,1003.2 106.9,1003.2 112.9,1003.2 119,1003.2 125,1003.2 131,1003.2 137.1,1003.2 143.1,1003.2 149.1,1003.2 155.2,1003.2 161.2,1003.2 167.3,1003.2 173.3,1003.2 179.3,1003.2 185.4,1003.2 191.4,1003.2 197.4,1003.2 203.5,1003.2 209.5,1003.2 215.6,1003.2 221.6,1003.2 227.6,1003.2 233.7,1003.2 239.7,1003.2 245.7,1003.2 251.8,1003.2 257.8,1003.2 263.8,1003.2 269.9,1003.2 275.9,1003.2 282,1003.2 288,1003.2 294,1003.2 300.1,1003.2 306.1,1003.2 312.1,1003.2 318.2,1003.2 324.2,1003.2 330.3,1003.2 336.3,1003.2 342.3,1003.2 348.4,1003.2 354.4,1002.2 360.4,1001.1 366.5,1000.4 372.5,1000.4 378.6,1000.4 384.6,1000.3 390.6,999.9 396.7,999.4 402.7,997.8 408.7,996.9 414.8,996.8 420.8,996.8 426.8,996.9 432.9,996.4 438.9,995.2 445,993.3 451,991.9 457,991 463.1,990.2 469.1,989.6 475.1,988.9 481.2,987.5 487.2,986.7 493.3,985.8 499.3,984 505.3,982.3 511.4,979.7 517.4,979.1 523.4,978.4 529.5,978.4 535.5,977.9 541.5,976.5 547.6,975.6 553.6,974.4 559.7,971.8 565.7,968.3 571.7,966.7 577.8,966.7 583.8,966.5 589.8,966.5 595.9,963.9 601.9,960.9 608,960.6 614,961.4 620,960.6 626.1,958.3 632.1,956.9 638.1,954.8 644.2,954.8 650.2,953.9 656.3,951.6 662.3,949.5 668.3,949 674.4,947.4 680.4,946.9" fill="none" stroke="#FBC58C" stroke-width="1.15" stroke-linejoin="round"/>
<polyline points="76.7,1003.2 82.7,1003.2 88.8,1003.2 94.8,1003.2 100.8,1003.2 106.9,1003.2 112.9,1003.2 119,1003.2 125,1003.2 131,1003.2 137.1,1003.2 143.1,1003.2 149.1,1003.2 155.2,1003.2 161.2,1003.2 167.3,1003.2 173.3,1003.2 179.3,1003.2 185.4,1003.2 191.4,1003.2 197.4,1003.2 203.5,1003.2 209.5,1003.2 215.6,1003.2 221.6,1003.2 227.6,1003.2 233.7,1003.2 239.7,1003.2 245.7,1003.2 251.8,1003.2 257.8,1003.2 263.8,1003.2 269.9,1003.2 275.9,1003.2 282,1003.2 288,1003.2 294,1003.2 300.1,1003.2 306.1,1003.2 312.1,1003.2 318.2,1003.2 324.2,1003.2 330.3,1003.2 336.3,1003.2 342.3,1003.2 348.4,1003.2 354.4,1003.2 360.4,1003.2 366.5,1003.2 372.5,1003.2 378.6,1003.2 384.6,1003.2 390.6,1003.2 396.7,1003.2 402.7,1003.2 408.7,1003.2 414.8,1003.2 420.8,1003.2 426.8,1003.2 432.9,1003.2 438.9,1003.2 445,1003.2 451,1003.2 457,1003.2 463.1,1003.2 469.1,1003.2 475.1,1003.2 481.2,1003.2 487.2,1003.2 493.3,1003.2 499.3,1003.2 505.3,1003.2 511.4,1003.2 517.4,1003.2 523.4,1003.2 529.5,1003.2 535.5,1003.2 541.5,1003.2 547.6,1003.2 553.6,1003.2 559.7,1003.2 565.7,1003.2 571.7,1003.2 577.8,1003.2 583.8,1003.2 589.8,1003.2 595.9,1003.2 601.9,1003.2 608,1003.2 614,1003.2 620,1003.2 626.1,1003.2 632.1,1003.2 638.1,1003.2 644.2,1003.2 650.2,1003.2 656.3,1003.2 662.3,1003.2 668.3,1003.2 674.4,1003.2 680.4,1003.2" fill="none" stroke="#8CCB8E" stroke-width="1.15" stroke-linejoin="round"/>
<polyline points="76.7,1003.2 82.7,1003.2 88.8,1003.2 94.8,1003.2 100.8,1003.2 106.9,1003.2 112.9,1003.2 119,1003.2 125,1003.2 131,1003.2 137.1,1003.2 143.1,1003.2 149.1,1003.2 155.2,1003.2 161.2,1003.2 167.3,1003.2 173.3,1003.2 179.3,1003.2 185.4,1003.2 191.4,1003.2 197.4,1003.2 203.5,1003.2 209.5,1003.2 215.6,1003.2 221.6,1003.2 227.6,1003.2 233.7,1003.2 239.7,1003.2 245.7,1003.2 251.8,1003.2 257.8,1003.2 263.8,1003.2 269.9,1003.2 275.9,1003.2 282,1003.2 288,1003.2 294,1003.2 300.1,1003.2 306.1,1003.2 312.1,1003.2 318.2,1003.2 324.2,1003.2 330.3,1003.2 336.3,1003.2 342.3,1003.2 348.4,1003.2 354.4,1003.2 360.4,1003.2 366.5,1003.2 372.5,1003.2 378.6,1003.2 384.6,1003.2 390.6,1003.2 396.7,1003.2 402.7,1003.2 408.7,1003.2 414.8,1003.2 420.8,1003.2 426.8,1003.2 432.9,1003.2 438.9,1003.2 445,1003.2 451,1003.2 457,1003.2 463.1,1003.2 469.1,1003.2 475.1,1003.2 481.2,1003.2 487.2,1003.2 493.3,1003.2 499.3,1003.2 505.3,1003.2 511.4,1003.2 517.4,1003.2 523.4,1003.2 529.5,1003.2 535.5,1003.2 541.5,1003.2 547.6,1003.2 553.6,1003.2 559.7,1003.2 565.7,1003.2 571.7,1003.2 577.8,1003.2 583.8,1003.2 589.8,1003.2 595.9,1003.2 601.9,1003.2 608,1003.2 614,1003.2 620,1003.2 626.1,1003.2 632.1,1003.2 638.1,1003.2 644.2,1003.2 650.2,1003.2 656.3,1003.2 662.3,1003.2 668.3,1003.2 674.4,1003.2 680.4,1003.2" fill="none" stroke="#C3AFD8" stroke-width="1.15" stroke-linejoin="round"/>
<polyline points="76.7,1003.2 82.7,1003.2 88.8,1003.2 94.8,1003.2 100.8,1003.2 106.9,1003.2 112.9,1003.2 119,1003.2 125,1003.2 131,1003.2 137.1,1003.2 143.1,1003.2 149.1,1003.2 155.2,1003.2 161.2,1003.2 167.3,1003.2 173.3,1003.2 179.3,1003.2 185.4,1003.2 191.4,1003.2 197.4,1003.2 203.5,1003.2 209.5,1003.2 215.6,1003.2 221.6,1003.2 227.6,1003.2 233.7,1003.2 239.7,1003.2 245.7,1003.2 251.8,1003.2 257.8,1003.2 263.8,1003.2 269.9,1003.2 275.9,1003.2 282,1003.2 288,1003.2 294,1003.2 300.1,1003.2 306.1,1003.2 312.1,1003.2 318.2,1003.2 324.2,1003.2 330.3,1003.2 336.3,1003.2 342.3,1003.2 348.4,1003.2 354.4,1003.2 360.4,1003.2 366.5,1002.5 372.5,1002.5 378.6,1002.2 384.6,1002.2 390.6,1002 396.7,1001.7 402.7,1001.1 408.7,1000.8 414.8,1000.4 420.8,999.6 426.8,999 432.9,997.3 438.9,995.9 445,995.9 451,997.7 457,997.5 463.1,995.8 469.1,994.2 475.1,995.8 481.2,996.6 487.2,994 493.3,992.3 499.3,992.8 505.3,994.2 511.4,992.3 517.4,992.8 523.4,992.4 529.5,992.3 535.5,993.7 541.5,992.8 547.6,991 553.6,986.7 559.7,981.9 565.7,985.8 571.7,987.7 577.8,986.6 583.8,983.3 589.8,980.7 595.9,979.8 601.9,978.9 608,977.2 614,974.9 620,975.4 626.1,977.2 632.1,972.3 638.1,969.3 644.2,965.8 650.2,966.2 656.3,967.9 662.3,968.8 668.3,966.5 674.4,965.3 680.4,966.2" fill="none" stroke="#8DB4F6" stroke-width="1.15" stroke-linejoin="round"/>
</g>
<g id="axes">
<path d="M75.0 466.4L75.0 5.2" fill="none" stroke="#000" stroke-width="1.95"/>
<path d="M74.025 6.2L675.9499999999999 6.2" fill="none" stroke="#000" stroke-width="2"/>
<path d="M674.9 466.4L674.9 5.2" fill="none" stroke="#000" stroke-width="2.1"/>
<line x1="75.0" y1="121.1" x2="214.9" y2="121.1" stroke="#000" stroke-width="1.4"/>
<line x1="214.9" y1="121.1" x2="674.9" y2="121.1" stroke="#000" stroke-width="1.75"/>
<line x1="75.0" y1="235.8" x2="430.9" y2="235.8" stroke="#000" stroke-width="1.4"/>
<line x1="430.9" y1="235.8" x2="674.9" y2="235.8" stroke="#000" stroke-width="1.75"/>
<line x1="75.0" y1="351.0" x2="388.9" y2="351.0" stroke="#000" stroke-width="1.4"/>
<line x1="388.9" y1="351.0" x2="674.9" y2="351.0" stroke="#000" stroke-width="1.75"/>
<line x1="74.0" y1="465.5" x2="364.9" y2="465.5" stroke="#000" stroke-width="1.4"/>
<line x1="364.9" y1="465.5" x2="675.9" y2="465.5" stroke="#000" stroke-width="1.8"/>
<path d="M76.7 1004.1L76.7 581.1" fill="none" stroke="#000" stroke-width="1.8"/>
<path d="M75.8 582.1L681.4499999999999 582.1" fill="none" stroke="#000" stroke-width="2"/>
<path d="M680.4 1004.1L680.4 581.1" fill="none" stroke="#000" stroke-width="2.1"/>
<line x1="76.7" y1="687.0" x2="229.6" y2="687.0" stroke="#000" stroke-width="1.25"/>
<line x1="229.6" y1="687.0" x2="680.4" y2="687.0" stroke="#000" stroke-width="1.75"/>
<line x1="76.7" y1="792.6" x2="680.4" y2="792.6" stroke="#000" stroke-width="1.25"/>
<line x1="76.7" y1="897.8" x2="680.4" y2="897.8" stroke="#000" stroke-width="1.25"/>
<line x1="75.7" y1="1003.2" x2="681.4" y2="1003.2" stroke="#000" stroke-width="1.25"/>
</g>
<use href="#series-lines" opacity="0.4"/>
<g id="markers">
<polyline points="74.9,121.1 80.9,121.1 86.9,121.1 92.9,121.1 98.9,121.1 104.9,121.1 110.9,121.1 116.9,121.1 122.9,121.1 128.9,121.1 134.9,121.1 140.9,121.1 146.9,121.1 152.9,121.1 158.9,121.1 164.9,121.1 170.9,121.1 176.9,121.1 182.9,121.1 188.9,121.1 194.9,121.1 200.9,120.7 206.9,120.5 212.9,120.3 218.9,120.1 224.9,119.9 230.9,119.8 236.9,119.4 242.9,119.1 248.9,118.8 254.9,118.4 260.9,118.1 266.9,117.9 272.9,117.6 278.9,117.4 284.9,117.2 290.9,116.9 296.9,116.7 302.9,115.2 308.9,113.4 314.9,113 320.9,112.6 326.9,112.6 332.9,112.6 338.9,112.5 344.9,112.2 350.9,111.6 356.9,111.3 362.9,108.7 368.9,106.9 374.9,106.9 380.9,107.4 386.9,106.9 392.9,106.4 398.9,105.7 404.9,106.4 410.9,107.4 416.9,103.4 422.9,101.7 428.9,99.9 434.9,99 440.9,100.8 446.9,97.3 452.9,96.9 458.9,98.6 464.9,100 470.9,99.4 476.9,97.7 482.9,96.5 488.9,93.3 494.9,93.3 500.9,89.6 506.9,87 512.9,90.4 518.9,92.3 524.9,87.4 530.9,91.4 536.9,89.3 542.9,91.4 548.9,87.4 554.9,83.8 560.9,80.9 566.9,79.5 572.9,76.9 578.9,71.7 584.9,72 590.9,69.9 596.9,70.4 602.9,76.9 608.9,85.7 614.9,89.5 620.9,74.3 626.9,77.4 632.9,74.3 638.9,73.1 644.9,83 650.9,87.4 656.9,79.5 662.9,76.9 668.9,78.3 674.9,79.5" fill="none" stroke="none" marker-start="url(#mo93)" marker-mid="url(#mo93)" marker-end="url(#mo93)"/>
<polyline points="74.9,121.1 80.9,121.1 86.9,121.1 92.9,121.1 98.9,121.1 104.9,121.1 110.9,121.1 116.9,121.1 122.9,121.1 128.9,121.1 134.9,121.1 140.9,121.1 146.9,121.1 152.9,121.1 158.9,121.1 164.9,121.1 170.9,121.1 176.9,121.1 182.9,121.1 188.9,121.1 194.9,121.1 200.9,120.7 206.9,120.5 212.9,120.4 218.9,120.3 224.9,120.1 230.9,120.1 236.9,119.7 242.9,119.4 248.9,119.1 254.9,118.7 260.9,118.4 266.9,118.2 272.9,117.9 278.9,117.7 284.9,117.5 290.9,115 296.9,114.8 302.9,114.4 308.9,116 314.9,115.6 320.9,115.2 326.9,114.6 332.9,113.9 338.9,113.2 344.9,112.2 350.9,112.7 356.9,111.6 362.9,110.4 368.9,106.9 374.9,104.3 380.9,105.3 386.9,104.6 392.9,104.6 398.9,104.3 404.9,103.4 410.9,99.6 416.9,99.6 422.9,93.3 428.9,91.7 434.9,91.7 440.9,88.2 446.9,85 452.9,84.5 458.9,86.8 464.9,88.9 470.9,88 476.9,85.4 482.9,83.7 488.9,81 494.9,82.8 500.9,79.4 506.9,82.3 512.9,82.8 518.9,71.8 524.9,73.3 530.9,75 536.9,72.4 542.9,70.4 548.9,70.9 554.9,63.4 560.9,61.6 566.9,62 572.9,52.9 578.9,55 584.9,52.9 590.9,48 596.9,49.4 602.9,45.4 608.9,47.7 614.9,33.5 620.9,38.9 626.9,37 632.9,39.3 638.9,37.2 644.9,40.7 650.9,38.9 656.9,33.1 662.9,36.3 668.9,43.1 674.9,42.4" fill="none" stroke="none" marker-start="url(#mg93)" marker-mid="url(#mg93)" marker-end="url(#mg93)"/>
<polyline points="74.9,121.1 80.9,121.1 86.9,121.1 92.9,121.1 98.9,121.1 104.9,121.1 110.9,121.1 116.9,121.1 122.9,121.1 128.9,121.1 134.9,121.1 140.9,121.1 146.9,121.1 152.9,121.1 158.9,121.1 164.9,121.1 170.9,121.1 176.9,121.1 182.9,121.1 188.9,121.1 194.9,121.1 200.9,120.7 206.9,120.5 212.9,120.3 218.9,120.1 224.9,119.9 230.9,119.8 236.9,119.4 242.9,119.1 248.9,118.8 254.9,118.4 260.9,118.1 266.9,117.9 272.9,117.6 278.9,117.4 284.9,117.2 290.9,116.9 296.9,116.7 302.9,116.3 308.9,115.9 314.9,115.5 320.9,115.1 326.9,114.5 332.9,113.8 338.9,113.2 344.9,113 350.9,112.2 356.9,111.3 362.9,110.4 368.9,108.7 374.9,107.8 380.9,106.9 386.9,106 392.9,106.4 398.9,106 404.9,105.7 410.9,104.6 416.9,103.4 422.9,102 428.9,102.5 434.9,103.4 440.9,104.8 446.9,98.2 452.9,97.3 458.9,97.7 464.9,99.4 470.9,99.4 476.9,98.6 482.9,96.5 488.9,92.1 494.9,92.4 500.9,90.4 506.9,91.1 512.9,93.3 518.9,91.8 524.9,88.2 530.9,87.4 536.9,83.8 542.9,81.6 548.9,79.4 554.9,85.3 560.9,86.7 566.9,72.2 572.9,75.7 578.9,82.2 584.9,80.4 590.9,74.3 596.9,75.2 602.9,70.8 608.9,70.4 614.9,72.5 620.9,67.3 626.9,60.6 632.9,57.3 638.9,57.7 644.9,59.4 650.9,56.3 656.9,56.8 662.9,51.9 668.9,48 674.9,57.7" fill="none" stroke="none" marker-start="url(#mp93)" marker-mid="url(#mp93)" marker-end="url(#mp93)"/>
<polyline points="74.9,121.1 80.9,121.1 86.9,121.1 92.9,121.1 98.9,121.1 104.9,121.1 110.9,121.1 116.9,121.1 122.9,121.1 128.9,121.1 134.9,121.1 140.9,121.1 146.9,121.1 152.9,121.1 158.9,121.1 164.9,121.1 170.9,121.1 176.9,121.1 182.9,121.1 188.9,121.1 194.9,121.1 200.9,120.7 206.9,120 212.9,119.4 218.9,118.8 224.9,118.1 230.9,117.6 236.9,117.2 242.9,116.9 248.9,116.6 254.9,116.2 260.9,115.9 266.9,115.7 272.9,115.4 278.9,115.2 284.9,115 290.9,114.7 296.9,114.5 302.9,114.1 308.9,113.7 314.9,113.3 320.9,113 326.9,112.8 332.9,112.7 338.9,112.6 344.9,112.2 350.9,111.3 356.9,111.8 362.9,110.4 368.9,109.2 374.9,109.2 380.9,109.5 386.9,110.1 392.9,108.7 398.9,105.7 404.9,104.3 410.9,102.5 416.9,103.1 422.9,102.2 428.9,103.1 434.9,102.5 440.9,100.8 446.9,96.4 452.9,93.8 458.9,96.8 464.9,100 470.9,101.2 476.9,102.1 482.9,99.4 488.9,95.1 494.9,93.3 500.9,91.8 506.9,91.8 512.9,90.4 518.9,95.5 524.9,95.2 530.9,89.3 536.9,85.3 542.9,87 548.9,79.1 554.9,79.7 560.9,79.1 566.9,83.9 572.9,81.3 578.9,78.1 584.9,87.4 590.9,93.2 596.9,91.5 602.9,88.3 608.9,82.2 614.9,75.5 620.9,73.4 626.9,76.9 632.9,74.3 638.9,67.8 644.9,69 650.9,64.3 656.9,61.2 662.9,58.9 668.9,55 674.9,61.7" fill="none" stroke="none" marker-start="url(#mb93)" marker-mid="url(#mb93)" marker-end="url(#mb93)"/>
<polyline points="74.9,235.8 80.9,235.8 86.9,235.8 92.9,235.8 98.9,235.8 104.9,235.8 110.9,235.8 116.9,235.8 122.9,235.8 128.9,235.8 134.9,235.8 140.9,235.8 146.9,235.8 152.9,235.8 158.9,235.8 164.9,235.8 170.9,235.8 176.9,235.8 182.9,235.8 188.9,235.8 194.9,235.8 200.9,235.8 206.9,235.8 212.9,235.8 218.9,235.8 224.9,235.8 230.9,235.8 236.9,234.3 242.9,233.4 248.9,233.4 254.9,234.6 260.9,234.6 266.9,233.9 272.9,233.1 278.9,232.5 284.9,232.2 290.9,231.1 296.9,230.4 302.9,230.3 308.9,230.3 314.9,230.4 320.9,232.2 326.9,232.7 332.9,233.9 338.9,234.4 344.9,232.3 350.9,232.2 356.9,231.3 362.9,230.4 368.9,230.9 374.9,230.4 380.9,230.9 386.9,231.3 392.9,231.8 398.9,232.2 404.9,231.6 410.9,230.9 416.9,230.4 422.9,230.1 428.9,225.7 434.9,222.7 440.9,215.5 446.9,225.7 452.9,223.9 458.9,215.2 464.9,207.8 470.9,211.7 476.9,210.8 482.9,211.1 488.9,207.3 494.9,217.8 500.9,221.3 506.9,215.2 512.9,209.9 518.9,216 524.9,220.4 530.9,221.5 536.9,215.7 542.9,210.9 548.9,192.4 554.9,186.8 560.9,192 566.9,195.5 572.9,200.8 578.9,206.4 584.9,196.9 590.9,185 596.9,177.2 602.9,186 608.9,185 614.9,195.2 620.9,194.3 626.9,205 632.9,205.3 638.9,195.5 644.9,190.1 650.9,172.8 656.9,186.4 662.9,203.2 668.9,207.2 674.9,203.5" fill="none" stroke="none" marker-start="url(#mo93)" marker-mid="url(#mo93)" marker-end="url(#mo93)"/>
<polyline points="74.9,235.8 80.9,235.8 86.9,235.8 92.9,235.8 98.9,235.8 104.9,235.8 110.9,235.8 116.9,235.8 122.9,235.8 128.9,235.8 134.9,235.8 140.9,235.8 146.9,235.8 152.9,235.8 158.9,235.8 164.9,235.8 170.9,235.8 176.9,235.8 182.9,235.8 188.9,235.8 194.9,235.8 200.9,235.8 206.9,235.8 212.9,235.8 218.9,235.8 224.9,235.8 230.9,235.8 236.9,235.8 242.9,235.8 248.9,235.8 254.9,235.8 260.9,235.8 266.9,235.8 272.9,235.8 278.9,235.8 284.9,235.8 290.9,235.8 296.9,235.8 302.9,235.8 308.9,235.8 314.9,235.8 320.9,235.8 326.9,235.8 332.9,235.8 338.9,235.8 344.9,235.8 350.9,235.8 356.9,235.8 362.9,235.8 368.9,235.8 374.9,235.8 380.9,235.8 386.9,235.8 392.9,235.8 398.9,235.8 404.9,235.8 410.9,232.2 416.9,231.6 422.9,230.1 428.9,227.4 434.9,228.7 440.9,229.7 446.9,227.4 452.9,226.5 458.9,225.7 464.9,223.9 470.9,221.6 476.9,220.1 482.9,215.7 488.9,213.9 494.9,212.9 500.9,212.5 506.9,212.2 512.9,212.2 518.9,210.3 524.9,207.4 530.9,206.9 536.9,203.1 542.9,198.2 548.9,202.5 554.9,200.4 560.9,200.4 566.9,200.4 572.9,200.4 578.9,199 584.9,200.1 590.9,197.2 596.9,197.2 602.9,196.2 608.9,195.8 614.9,190.8 620.9,189.6 626.9,190.1 632.9,184.1 638.9,186.7 644.9,187.7 650.9,187.4 656.9,185 662.9,183.8 668.9,182.6 674.9,179" fill="none" stroke="none" marker-start="url(#mg93)" marker-mid="url(#mg93)" marker-end="url(#mg93)"/>
<polyline points="74.9,235.8 80.9,235.8 86.9,235.8 92.9,235.8 98.9,235.8 104.9,235.8 110.9,235.8 116.9,235.8 122.9,235.8 128.9,235.8 134.9,235.8 140.9,235.8 146.9,235.8 152.9,235.8 158.9,235.8 164.9,235.8 170.9,235.8 176.9,235.8 182.9,235.8 188.9,235.8 194.9,235.8 200.9,235.8 206.9,235.8 212.9,235.8 218.9,235.8 224.9,235.8 230.9,235.8 236.9,235.8 242.9,235.8 248.9,235.8 254.9,235.8 260.9,235.8 266.9,235.8 272.9,235.8 278.9,235.8 284.9,235.8 290.9,235.8 296.9,235.8 302.9,235.8 308.9,235.8 314.9,235.8 320.9,235.8 326.9,235.8 332.9,235.8 338.9,235.8 344.9,235.8 350.9,235.8 356.9,235.8 362.9,235.8 368.9,235.8 374.9,235.8 380.9,235.8 386.9,235.8 392.9,235.8 398.9,235.8 404.9,235.8 410.9,235.8 416.9,235.8 422.9,235.8 428.9,235.8 434.9,235 440.9,234.4 446.9,233.2 452.9,233.2 458.9,233.2 464.9,230.9 470.9,228 476.9,226.5 482.9,226.2 488.9,225.7 494.9,225.1 500.9,224.8 506.9,222.7 512.9,221.6 518.9,220.1 524.9,220.9 530.9,218.3 536.9,218.3 542.9,218.7 548.9,218 554.9,219.2 560.9,218.7 566.9,210.4 572.9,208.7 578.9,209.5 584.9,208.2 590.9,207.2 596.9,210.8 602.9,212.6 608.9,210.1 614.9,206.4 620.9,201.3 626.9,199.9 632.9,199.9 638.9,199.9 644.9,201.3 650.9,199.4 656.9,199.9 662.9,199.4 668.9,194 674.9,194" fill="none" stroke="none" marker-start="url(#mp93)" marker-mid="url(#mp93)" marker-end="url(#mp93)"/>
<polyline points="74.9,235.8 80.9,235.8 86.9,235.8 92.9,235.8 98.9,235.8 104.9,235.8 110.9,235.8 116.9,235.8 122.9,235.8 128.9,235.8 134.9,235.8 140.9,235.8 146.9,235.8 152.9,235.8 158.9,235.8 164.9,235.8 170.9,235.8 176.9,235.8 182.9,235.8 188.9,235.8 194.9,235.8 200.9,235.8 206.9,235.8 212.9,235.8 218.9,235.8 224.9,235.8 230.9,235.8 236.9,235.8 242.9,235.8 248.9,235.8 254.9,235.8 260.9,235.8 266.9,234.6 272.9,233.9 278.9,233.1 284.9,232.2 290.9,231.1 296.9,228.7 302.9,221.2 308.9,215.9 314.9,214.7 320.9,208 326.9,207.1 332.9,206.8 338.9,207.3 344.9,217.6 350.9,226 356.9,226.4 362.9,221.1 368.9,225.7 374.9,234.4 380.9,233.4 386.9,226.9 392.9,227.8 398.9,225.2 404.9,233 410.9,233.9 416.9,232.7 422.9,235 428.9,234.4 434.9,231.8 440.9,230.6 446.9,229.2 452.9,228.7 458.9,228.3 464.9,225.1 470.9,222.7 476.9,224.4 482.9,226.2 488.9,226.5 494.9,225.7 500.9,222.7 506.9,221.6 512.9,221.3 518.9,219.5 524.9,215.1 530.9,215.7 536.9,212.2 542.9,214.8 548.9,215.7 554.9,212.2 560.9,212.7 566.9,210.4 572.9,204.6 578.9,210.9 584.9,212.3 590.9,211.5 596.9,204.7 602.9,210.8 608.9,215.2 614.9,214.2 620.9,210.1 626.9,208.3 632.9,200.6 638.9,205.3 644.9,203.1 650.9,206.9 656.9,203.1 662.9,196.2 668.9,193.7 674.9,198.4" fill="none" stroke="none" marker-start="url(#mb93)" marker-mid="url(#mb93)" marker-end="url(#mb93)"/>
<polyline points="74.9,351 80.9,351 86.9,351 92.9,351 98.9,351 104.9,351 110.9,351 116.9,351 122.9,351 128.9,351 134.9,351 140.9,351 146.9,351 152.9,351 158.9,351 164.9,351 170.9,351 176.9,351 182.9,351 188.9,351 194.9,351 200.9,351 206.9,351 212.9,351 218.9,351 224.9,351 230.9,351 236.9,351 242.9,351 248.9,351 254.9,351 260.9,349 266.9,347.3 272.9,346.4 278.9,346.4 284.9,344.7 290.9,342.6 296.9,342 302.9,341.7 308.9,339.9 314.9,338.9 320.9,336.8 326.9,335.9 332.9,334.5 338.9,333.8 344.9,330.6 350.9,332 356.9,333.8 362.9,328.9 368.9,328.9 374.9,329.9 380.9,331.5 386.9,330.3 392.9,333.4 398.9,332.6 404.9,327.7 410.9,321.2 416.9,325.4 422.9,327.7 428.9,324.2 434.9,318.4 440.9,318.9 446.9,317.7 452.9,317.8 458.9,318.3 464.9,325.1 470.9,328.7 476.9,326.5 482.9,326.5 488.9,320.4 494.9,316.4 500.9,312.9 506.9,316 512.9,314.6 518.9,311.7 524.9,306.9 530.9,307.6 536.9,312.9 542.9,309 548.9,299.4 554.9,300.3 560.9,276.1 566.9,292.1 572.9,294.9 578.9,280.9 584.9,291.3 590.9,294.9 596.9,286.5 602.9,288.3 608.9,300.9 614.9,293 620.9,300.5 626.9,297 632.9,296.7 638.9,303.2 644.9,299.3 650.9,287 656.9,281.6 662.9,273.7 668.9,276.9 674.9,286.2" fill="none" stroke="none" marker-start="url(#mo93)" marker-mid="url(#mo93)" marker-end="url(#mo93)"/>
<polyline points="74.9,351 80.9,351 86.9,351 92.9,351 98.9,351 104.9,351 110.9,351 116.9,351 122.9,351 128.9,351 134.9,351 140.9,351 146.9,351 152.9,351 158.9,351 164.9,351 170.9,351 176.9,351 182.9,351 188.9,351 194.9,351 200.9,351 206.9,351 212.9,351 218.9,351 224.9,351 230.9,351 236.9,351 242.9,351 248.9,351 254.9,351 260.9,351 266.9,351 272.9,351 278.9,349 284.9,347.6 290.9,346.9 296.9,346.9 302.9,348.2 308.9,349.9 314.9,351 320.9,351 326.9,351 332.9,349 338.9,347.8 344.9,349.5 350.9,349.5 356.9,348.7 362.9,347.8 368.9,348.7 374.9,350.4 380.9,350.4 386.9,351 392.9,349.9 398.9,349.2 404.9,348.7 410.9,347.8 416.9,348.1 422.9,348.3 428.9,348.7 434.9,348.7 440.9,348.7 446.9,348.7 452.9,347.6 458.9,347.9 464.9,348.4 470.9,347.6 476.9,347 482.9,346.3 488.9,346.2 494.9,345.3 500.9,343.7 506.9,344.4 512.9,344.6 518.9,345.5 524.9,345.3 530.9,344.8 536.9,345.5 542.9,345.8 548.9,344.1 554.9,339.7 560.9,335.7 566.9,341.2 572.9,342.6 578.9,341.2 584.9,342 590.9,339.4 596.9,337.8 602.9,341.2 608.9,341.7 614.9,340.5 620.9,338.5 626.9,338.5 632.9,338.5 638.9,337.8 644.9,333.5 650.9,326.8 656.9,325.6 662.9,330.7 668.9,328.2 674.9,326.3" fill="none" stroke="none" marker-start="url(#mg93)" marker-mid="url(#mg93)" marker-end="url(#mg93)"/>
<polyline points="74.9,351 80.9,351 86.9,351 92.9,351 98.9,351 104.9,351 110.9,351 116.9,351 122.9,351 128.9,351 134.9,351 140.9,351 146.9,351 152.9,351 158.9,351 164.9,351 170.9,351 176.9,351 182.9,351 188.9,351 194.9,351 200.9,351 206.9,351 212.9,351 218.9,351 224.9,351 230.9,351 236.9,351 242.9,351 248.9,351 254.9,351 260.9,351 266.9,351 272.9,349.4 278.9,348.2 284.9,347.6 290.9,347.3 296.9,347.6 302.9,348.2 308.9,348.2 314.9,347.8 320.9,347.8 326.9,348.7 332.9,349 338.9,348.7 344.9,349 350.9,349.5 356.9,349.2 362.9,349.5 368.9,348.7 374.9,347.8 380.9,347.8 386.9,347.4 392.9,346.9 398.9,346.6 404.9,345.7 410.9,343.9 416.9,343.4 422.9,343.4 428.9,342.5 434.9,342.2 440.9,342 446.9,341.7 452.9,341.4 458.9,342 464.9,341.4 470.9,339.7 476.9,339.2 482.9,340.2 488.9,340.6 494.9,341.4 500.9,342 506.9,341.4 512.9,341.4 518.9,340 524.9,340.6 530.9,340.2 536.9,338.3 542.9,338.3 548.9,337.1 554.9,336.7 560.9,336.7 566.9,335.2 572.9,334.7 578.9,334.2 584.9,334.7 590.9,335.9 596.9,335.9 602.9,335.2 608.9,332.9 614.9,330 620.9,330.8 626.9,330.3 632.9,329.4 638.9,327.7 644.9,325.9 650.9,326.3 656.9,328.2 662.9,327.3 668.9,323.8 674.9,324.7" fill="none" stroke="none" marker-start="url(#mp93)" marker-mid="url(#mp93)" marker-end="url(#mp93)"/>
<polyline points="74.9,351 80.9,351 86.9,351 92.9,351 98.9,351 104.9,351 110.9,351 116.9,351 122.9,351 128.9,351 134.9,351 140.9,351 146.9,351 152.9,351 158.9,351 164.9,351 170.9,351 176.9,351 182.9,351 188.9,351 194.9,351 200.9,351 206.9,351 212.9,351 218.9,351 224.9,351 230.9,351 236.9,351 242.9,351 248.9,351 254.9,351 260.9,352 266.9,352.5 272.9,352.5 278.9,352.5 284.9,351 290.9,351 296.9,352.2 302.9,352.2 308.9,351 314.9,351 320.9,351.7 326.9,351 332.9,351 338.9,350.1 344.9,349 350.9,346.4 356.9,344.6 362.9,341.7 368.9,341.3 374.9,345.7 380.9,346.4 386.9,342.5 392.9,339 398.9,335.2 404.9,335.2 410.9,335.2 416.9,338.2 422.9,341.7 428.9,345.7 434.9,346.9 440.9,346.4 446.9,346 452.9,342 458.9,338.8 464.9,330.1 470.9,320.8 476.9,321.6 482.9,331.8 488.9,321.6 494.9,322.5 500.9,327.4 506.9,337.4 512.9,340.6 518.9,328.3 524.9,327.4 530.9,302.6 536.9,295.6 542.9,299.9 548.9,315.7 554.9,319.9 560.9,328 566.9,338.7 572.9,335.9 578.9,330.3 584.9,316.6 590.9,298.8 596.9,305.8 602.9,315.4 608.9,327.2 614.9,324.2 620.9,311 626.9,296.5 632.9,293.9 638.9,302.3 644.9,305.4 650.9,296.2 656.9,293.5 662.9,310.7 668.9,295.3 674.9,296.2" fill="none" stroke="none" marker-start="url(#mb93)" marker-mid="url(#mb93)" marker-end="url(#mb93)"/>
<polyline points="74.9,465.5 80.9,465.5 86.9,465.5 92.9,465.5 98.9,465.5 104.9,465.5 110.9,465.5 116.9,465.5 122.9,465.5 128.9,465.5 134.9,465.5 140.9,465.5 146.9,465.5 152.9,465.5 158.9,465.5 164.9,465.5 170.9,465.5 176.9,465.5 182.9,465.5 188.9,465.5 194.9,465.5 200.9,465 206.9,464.6 212.9,464.4 218.9,464.4 224.9,464.4 230.9,464.4 236.9,464.4 242.9,464.3 248.9,464.3 254.9,464.1 260.9,463.9 266.9,463.7 272.9,463.6 278.9,463.4 284.9,463 290.9,462.7 296.9,462.2 302.9,461.6 308.9,461.3 314.9,460.4 320.9,459.2 326.9,458.1 332.9,456.9 338.9,456.4 344.9,455.7 350.9,454.8 356.9,451.6 362.9,451.3 368.9,450.4 374.9,450.4 380.9,448.1 386.9,446.9 392.9,445.7 398.9,445.2 404.9,442.5 410.9,440.8 416.9,439.9 422.9,439.9 428.9,437.3 434.9,435.5 440.9,432.6 446.9,432 452.9,431.2 458.9,427.7 464.9,427.4 470.9,427.4 476.9,427.4 482.9,423.4 488.9,422.5 494.9,421.1 500.9,419 506.9,416.9 512.9,412.4 518.9,411.2 524.9,407.3 530.9,406.8 536.9,405.9 542.9,405.4 548.9,401 554.9,399.8 560.9,400.1 566.9,397.4 572.9,396.2 578.9,394.8 584.9,395.6 590.9,393 596.9,386.9 602.9,386.9 608.9,384.6 614.9,382.9 620.9,382.5 626.9,382.2 632.9,381.6 638.9,380.4 644.9,380.4 650.9,379.5 656.9,379 662.9,380.4 668.9,379.9 674.9,377.6" fill="none" stroke="none" marker-start="url(#mo93)" marker-mid="url(#mo93)" marker-end="url(#mo93)"/>
<polyline points="74.9,465.5 80.9,465.5 86.9,465.5 92.9,465.5 98.9,465.5 104.9,465.5 110.9,465.5 116.9,465.5 122.9,465.5 128.9,465.5 134.9,465.5 140.9,465.5 146.9,465.5 152.9,465.5 158.9,465.5 164.9,465.5 170.9,465.5 176.9,465.5 182.9,465.5 188.9,465.5 194.9,465.5 200.9,465.5 206.9,465.5 212.9,465.5 218.9,465.5 224.9,465.5 230.9,465.5 236.9,465.5 242.9,465.5 248.9,465.5 254.9,465.5 260.9,465.5 266.9,465.5 272.9,465.5 278.9,465.5 284.9,465.5 290.9,465.5 296.9,465.5 302.9,465.5 308.9,465.5 314.9,465.5 320.9,465.5 326.9,465.5 332.9,465.5 338.9,465.5 344.9,465.5 350.9,465 356.9,465 362.9,464.4 368.9,463.6 374.9,462.7 380.9,462.2 386.9,462.2 392.9,462.7 398.9,462.2 404.9,460.1 410.9,459.5 416.9,458 422.9,456.9 428.9,456.5 434.9,456.5 440.9,455.1 446.9,454.4 452.9,452.2 458.9,449.2 464.9,447.9 470.9,447.9 476.9,447.9 482.9,445.8 488.9,446.2 494.9,445.3 500.9,441.8 506.9,442.3 512.9,441.8 518.9,441.3 524.9,440.1 530.9,436.9 536.9,437.4 542.9,435.7 548.9,430.1 554.9,430.8 560.9,433 566.9,427.2 572.9,424 578.9,424 584.9,419.6 590.9,418.4 596.9,419.3 602.9,418.4 608.9,414.9 614.9,416.3 620.9,414.6 626.9,415.8 632.9,417 638.9,410.9 644.9,413.2 650.9,410.5 656.9,410.9 662.9,412.3 668.9,414.6 674.9,408.4" fill="none" stroke="none" marker-start="url(#mg93)" marker-mid="url(#mg93)" marker-end="url(#mg93)"/>
<polyline points="74.9,465.5 80.9,465.5 86.9,465.5 92.9,465.5 98.9,465.5 104.9,465.5 110.9,465.5 116.9,465.5 122.9,465.5 128.9,465.5 134.9,465.5 140.9,465.5 146.9,465.5 152.9,465.5 158.9,465.5 164.9,465.5 170.9,465.5 176.9,465.5 182.9,465.5 188.9,465.5 194.9,465.5 200.9,465.5 206.9,465.5 212.9,465.5 218.9,465.5 224.9,465.5 230.9,465.5 236.9,465.5 242.9,465.5 248.9,465.5 254.9,465.5 260.9,465.5 266.9,465.5 272.9,464.8 278.9,464.1 284.9,463.4 290.9,462.9 296.9,462.2 302.9,461.6 308.9,461.3 314.9,460.4 320.9,459.2 326.9,458.1 332.9,456 338.9,454.6 344.9,452.7 350.9,453 356.9,452.2 362.9,452.2 368.9,449.9 374.9,450.4 380.9,448.7 386.9,446.9 392.9,442.2 398.9,442.2 404.9,442.2 410.9,441.1 416.9,442.5 422.9,442.5 428.9,438.2 434.9,436.4 440.9,434.7 446.9,433.4 452.9,432.6 458.9,431.7 464.9,431.3 470.9,431.6 476.9,431.3 482.9,429.2 488.9,426.4 494.9,425.2 500.9,423.9 506.9,422.2 512.9,416.9 518.9,415.2 524.9,411.7 530.9,413.8 536.9,412 542.9,407.7 548.9,404.7 554.9,399.4 560.9,401.2 566.9,404.4 572.9,400.9 578.9,396.2 584.9,391.3 590.9,390.9 596.9,390.4 602.9,392.7 608.9,388.3 614.9,387.8 620.9,392.5 626.9,387.4 632.9,386.9 638.9,384.3 644.9,385.7 650.9,385.7 656.9,379.9 662.9,377.3 668.9,376.4 674.9,378.7" fill="none" stroke="none" marker-start="url(#mp93)" marker-mid="url(#mp93)" marker-end="url(#mp93)"/>
<polyline points="74.9,465.5 80.9,465.5 86.9,465.5 92.9,465.5 98.9,465.5 104.9,465.5 110.9,465.5 116.9,465.5 122.9,465.5 128.9,465.5 134.9,465.5 140.9,465.5 146.9,465.5 152.9,465.5 158.9,465.5 164.9,465.5 170.9,465.5 176.9,465.5 182.9,465.5 188.9,465.5 194.9,465.5 200.9,465.5 206.9,465.5 212.9,465.5 218.9,465.5 224.9,465.5 230.9,465.5 236.9,465.5 242.9,465.5 248.9,465.5 254.9,465.5 260.9,465.5 266.9,465.5 272.9,465.5 278.9,465.5 284.9,465.5 290.9,465.5 296.9,465.5 302.9,465.5 308.9,465.5 314.9,465.5 320.9,465.5 326.9,465.5 332.9,465.5 338.9,465.5 344.9,465.5 350.9,465.5 356.9,466.2 362.9,465.5 368.9,463.2 374.9,463.6 380.9,463.9 386.9,463.9 392.9,463.2 398.9,462.7 404.9,462.2 410.9,462.2 416.9,461.8 422.9,461.5 428.9,460.9 434.9,460.9 440.9,459.2 446.9,459.2 452.9,458.7 458.9,458.3 464.9,454.9 470.9,453.7 476.9,450.9 482.9,451.4 488.9,447.9 494.9,445.7 500.9,449.7 506.9,447.1 512.9,441.8 518.9,437.4 524.9,435.1 530.9,434.8 536.9,435.1 542.9,438 548.9,435.1 554.9,432.2 560.9,427.4 566.9,434.2 572.9,420.2 578.9,425.4 584.9,426.3 590.9,429.8 596.9,429.3 602.9,431.9 608.9,426.3 614.9,423.7 620.9,420.2 626.9,424.2 632.9,417.5 638.9,410.5 644.9,410.2 650.9,410.2 656.9,407.4 662.9,406.2 668.9,406.5 674.9,412.3" fill="none" stroke="none" marker-start="url(#mb93)" marker-mid="url(#mb93)" marker-end="url(#mb93)"/>
<polyline points="76.7,687 82.7,687 88.8,687 94.8,687 100.8,687 106.9,687 112.9,687 119,687 125,687 131,687 137.1,687 143.1,687 149.1,687 155.2,687 161.2,687 167.3,687 173.3,687 179.3,687 185.4,687 191.4,687 197.4,687 203.5,687 209.5,687 215.6,687 221.6,687 227.6,686.4 233.7,685.5 239.7,684.7 245.7,683.8 251.8,683.4 257.8,682.9 263.8,682.9 269.9,683.1 275.9,683.1 282,682.9 288,682.7 294,682.6 300.1,682.6 306.1,682.7 312.1,682 318.2,681.3 324.2,681.2 330.3,681.3 336.3,681.2 342.3,681.3 348.4,681.6 354.4,681.3 360.4,680.8 366.5,680.9 372.5,680.4 378.6,678.7 384.6,677.8 390.6,676.9 396.7,676 402.7,676 408.7,676 414.8,676.4 420.8,676.9 426.8,676.4 432.9,676.4 438.9,675.2 445,674.3 451,673.1 457,667.4 463.1,669.2 469.1,667.4 475.1,668.7 481.2,670.1 487.2,666.2 493.3,666.5 499.3,668.7 505.3,672.2 511.4,668.3 517.4,662.2 523.4,658.7 529.5,656.9 535.5,662.7 541.5,664.8 547.6,666.9 553.6,670.4 559.7,669.2 565.7,661.9 571.7,662.4 577.8,662.4 583.8,657.2 589.8,656.3 595.9,652.8 601.9,655.4 608,651.4 614,651.4 620,652.8 626.1,656.6 632.1,658.9 638.1,657.2 644.2,654.5 650.2,654.5 656.3,650.7 662.3,652.4 668.3,651.4 674.4,652.4 680.4,645.8" fill="none" stroke="none" marker-start="url(#mo82)" marker-mid="url(#mo82)" marker-end="url(#mo82)"/>
<polyline points="76.7,687 82.7,687 88.8,687 94.8,687 100.8,687 106.9,687 112.9,687 119,687 125,687 131,687 137.1,687 143.1,687 149.1,687 155.2,687 161.2,687 167.3,687 173.3,687 179.3,687 185.4,687 191.4,687 197.4,687 203.5,687 209.5,687 215.6,687 221.6,687 227.6,686.4 233.7,685.2 239.7,682.6 245.7,681.7 251.8,681.5 257.8,681.3 263.8,681.7 269.9,682 275.9,682.6 282,681.2 288,678.9 294,678.2 300.1,678.9 306.1,680.3 312.1,678.2 318.2,676.8 324.2,676.4 330.3,676.8 336.3,676.4 342.3,675.2 348.4,674.8 354.4,673.4 360.4,673.1 366.5,671.7 372.5,671.7 378.6,669.9 384.6,665.9 390.6,664.7 396.7,663.4 402.7,666.4 408.7,666.8 414.8,661.7 420.8,663.4 426.8,662.6 432.9,659.1 438.9,660.3 445,657.3 451,655 457,655.5 463.1,651.3 469.1,652.5 475.1,654.3 481.2,646.4 487.2,645.5 493.3,642.9 499.3,643.3 505.3,649 511.4,647.8 517.4,640.6 523.4,647.8 529.5,641.7 535.5,645.2 541.5,635.9 547.6,628.4 553.6,636.4 559.7,623.1 565.7,638.4 571.7,631.3 577.8,630.6 583.8,622.1 589.8,622.1 595.9,617.8 601.9,623 608,614.8 614,622.1 620,610.4 626.1,615.1 632.1,622.7 638.1,629.7 644.2,622.5 650.2,616 656.3,607.6 662.3,613 668.3,619.5 674.4,612.5 680.4,625.1" fill="none" stroke="none" marker-start="url(#mg84)" marker-mid="url(#mg84)" marker-end="url(#mg84)"/>
<polyline points="76.7,687 82.7,687 88.8,687 94.8,687 100.8,687 106.9,687 112.9,687 119,687 125,687 131,687 137.1,687 143.1,687 149.1,687 155.2,687 161.2,687 167.3,687 173.3,687 179.3,687 185.4,687 191.4,687 197.4,687 203.5,687 209.5,687 215.6,687 221.6,687 227.6,686.4 233.7,685.5 239.7,684.7 245.7,683.8 251.8,683.4 257.8,682.9 263.8,682.9 269.9,683.1 275.9,683.1 282,682.9 288,682.7 294,682.6 300.1,682.6 306.1,682.7 312.1,682.6 318.2,682.2 324.2,682 330.3,681.7 336.3,681.2 342.3,680.4 348.4,680.9 354.4,680.9 360.4,680.4 366.5,680.4 372.5,679.5 378.6,677.8 384.6,677.4 390.6,677.8 396.7,676 402.7,676.9 408.7,675.7 414.8,675.2 420.8,676 426.8,676.9 432.9,675.2 438.9,674.6 445,673.9 451,673.4 457,670.6 463.1,669.7 469.1,668.7 475.1,669.7 481.2,667.1 487.2,666.2 493.3,667.4 499.3,668.3 505.3,665.1 511.4,665.3 517.4,662.2 523.4,666.2 529.5,666.9 535.5,666.5 541.5,668.3 547.6,665.1 553.6,659.2 559.7,651.1 565.7,661.2 571.7,662.1 577.8,657.2 583.8,661.2 589.8,658.9 595.9,663 601.9,656.6 608,663.7 614,666.8 620,658 626.1,655.4 632.1,651.9 638.1,647.2 644.2,642.3 650.2,646.1 656.3,648.1 662.3,652.8 668.3,651 674.4,649.8 680.4,645.4" fill="none" stroke="none" marker-start="url(#mp82)" marker-mid="url(#mp82)" marker-end="url(#mp82)"/>
<polyline points="76.7,687 82.7,687 88.8,687 94.8,687 100.8,687 106.9,687 112.9,687 119,687 125,687 131,687 137.1,687 143.1,687 149.1,687 155.2,687 161.2,687 167.3,687 173.3,687 179.3,687 185.4,687 191.4,687 197.4,687 203.5,687 209.5,687 215.6,687 221.6,687 227.6,686.4 233.7,685.5 239.7,684.7 245.7,683.8 251.8,683.4 257.8,682.9 263.8,682.9 269.9,683.1 275.9,683.1 282,682.9 288,682.7 294,682.6 300.1,682.6 306.1,682.7 312.1,682.6 318.2,682.2 324.2,682 330.3,681.7 336.3,681.2 342.3,677.8 348.4,677.4 354.4,677.4 360.4,677.3 366.5,676.9 372.5,675.7 378.6,674.8 384.6,676 390.6,673.8 396.7,674.3 402.7,675.7 408.7,674.6 414.8,671.7 420.8,669.6 426.8,666.1 432.9,668.7 438.9,669.9 445,673.1 451,674.6 457,673.2 463.1,670.9 469.1,669.2 475.1,667.4 481.2,664.8 487.2,663.4 493.3,663 499.3,656.4 505.3,660.4 511.4,660.4 517.4,664.8 523.4,667.4 529.5,670.9 535.5,670.9 541.5,668 547.6,660.4 553.6,657.8 559.7,653.9 565.7,652.4 571.7,650.2 577.8,648.4 583.8,651.9 589.8,647.5 595.9,650.7 601.9,651.9 608,651.9 614,648.4 620,654.5 626.1,653.7 632.1,652.8 638.1,648.1 644.2,650.7 650.2,656.3 656.3,654.2 662.3,648.9 668.3,646.3 674.4,641.8 680.4,644.6" fill="none" stroke="none" marker-start="url(#mb82)" marker-mid="url(#mb82)" marker-end="url(#mb82)"/>
<polyline points="76.7,792.6 82.7,792.6 88.8,792.6 94.8,792.6 100.8,792.6 106.9,792.6 112.9,792.6 119,792.6 125,792.6 131,792.6 137.1,792.6 143.1,792.6 149.1,792.6 155.2,792.6 161.2,792.6 167.3,792.6 173.3,792.6 179.3,792.6 185.4,792.6 191.4,792.6 197.4,792.6 203.5,792.6 209.5,792.6 215.6,792.6 221.6,792.6 227.6,792.6 233.7,792.6 239.7,792.6 245.7,792.6 251.8,792.6 257.8,792.6 263.8,792.6 269.9,792.6 275.9,792.6 282,792.6 288,792.6 294,792.6 300.1,792.6 306.1,792.6 312.1,792.6 318.2,792.6 324.2,792.6 330.3,792.6 336.3,792.6 342.3,792.6 348.4,792.6 354.4,792.6 360.4,792.6 366.5,792.6 372.5,792.6 378.6,792.6 384.6,792.6 390.6,790.8 396.7,788.7 402.7,787.4 408.7,789.5 414.8,789.9 420.8,789.9 426.8,789.9 432.9,789.9 438.9,789.5 445,789.2 451,788.7 457,786.4 463.1,782.5 469.1,779.6 475.1,778.7 481.2,780.8 487.2,782 493.3,782.5 499.3,782 505.3,777.2 511.4,775.4 517.4,777.5 523.4,776.7 529.5,774 535.5,770.5 541.5,771.9 547.6,776.1 553.6,772.3 559.7,767.4 565.7,764.7 571.7,764.7 577.8,763.4 583.8,764.7 589.8,761.5 595.9,755.6 601.9,757.7 608,766.4 614,767.3 620,762.9 626.1,758.9 632.1,763.4 638.1,758.9 644.2,754.7 650.2,758.2 656.3,757.1 662.3,756.4 668.3,760.3 674.4,756.4 680.4,750.6" fill="none" stroke="none" marker-start="url(#mo93)" marker-mid="url(#mo93)" marker-end="url(#mo93)"/>
<polyline points="76.7,792.6 82.7,792.6 88.8,792.6 94.8,792.6 100.8,792.6 106.9,792.6 112.9,792.6 119,792.6 125,792.6 131,792.6 137.1,792.6 143.1,792.6 149.1,792.6 155.2,792.6 161.2,792.6 167.3,792.6 173.3,792.6 179.3,792.6 185.4,792.6 191.4,792.6 197.4,792.6 203.5,792.6 209.5,792.6 215.6,792.6 221.6,792.6 227.6,792.6 233.7,792.6 239.7,792.6 245.7,792.6 251.8,792.6 257.8,792.6 263.8,792.6 269.9,792.6 275.9,792.6 282,792.6 288,792.6 294,792.6 300.1,792.6 306.1,792.6 312.1,792.6 318.2,792.6 324.2,792.6 330.3,792.6 336.3,792.6 342.3,792.6 348.4,792.6 354.4,792.6 360.4,792.6 366.5,792.6 372.5,792.6 378.6,792.6 384.6,792.6 390.6,792.6 396.7,792.6 402.7,792.6 408.7,792.6 414.8,792.6 420.8,792.6 426.8,792.6 432.9,792.6 438.9,792.6 445,792.6 451,792.6 457,792.6 463.1,792.6 469.1,792.6 475.1,792.6 481.2,792.6 487.2,792.6 493.3,792.6 499.3,792.6 505.3,792.6 511.4,792.6 517.4,792.6 523.4,792.6 529.5,792.6 535.5,792.6 541.5,792.6 547.6,792.6 553.6,792.6 559.7,792.6 565.7,792.6 571.7,792.6 577.8,792.6 583.8,792.6 589.8,792.6 595.9,792.6 601.9,792.6 608,792.6 614,792.6 620,792.6 626.1,792.6 632.1,792.6 638.1,792.6 644.2,792.6 650.2,792.6 656.3,792.6 662.3,792.6 668.3,792.6 674.4,792.6 680.4,792.6" fill="none" stroke="none" marker-start="url(#mg157)" marker-mid="url(#mg157)" marker-end="url(#mg157)"/>
<polyline points="76.7,792.6 82.7,792.6 88.8,792.6 94.8,792.6 100.8,792.6 106.9,792.6 112.9,792.6 119,792.6 125,792.6 131,792.6 137.1,792.6 143.1,792.6 149.1,792.6 155.2,792.6 161.2,792.6 167.3,792.6 173.3,792.6 179.3,792.6 185.4,792.6 191.4,792.6 197.4,792.6 203.5,792.6 209.5,792.6 215.6,792.6 221.6,792.6 227.6,792.6 233.7,792.6 239.7,792.6 245.7,792.6 251.8,792.6 257.8,792.6 263.8,792.6 269.9,792.6 275.9,792.6 282,792.6 288,792.6 294,792.6 300.1,792.6 306.1,792.6 312.1,792.6 318.2,792.6 324.2,792.6 330.3,792.6 336.3,792.6 342.3,792.6 348.4,792.6 354.4,792.6 360.4,792.6 366.5,792.6 372.5,792.6 378.6,792.6 384.6,792.6 390.6,792.6 396.7,792.6 402.7,792.6 408.7,792.6 414.8,792.6 420.8,792.6 426.8,792.6 432.9,792.6 438.9,792.6 445,792.6 451,792.6 457,792.6 463.1,792.6 469.1,792.6 475.1,792.6 481.2,792.6 487.2,792.6 493.3,792.6 499.3,792.6 505.3,792.6 511.4,792.6 517.4,792.6 523.4,792.6 529.5,792.6 535.5,792.6 541.5,792.6 547.6,792.6 553.6,792.6 559.7,792.6 565.7,792.6 571.7,792.6 577.8,792.6 583.8,792.6 589.8,792.6 595.9,792.6 601.9,792.6 608,792.6 614,792.6 620,792.6 626.1,792.6 632.1,792.6 638.1,792.6 644.2,792.6 650.2,792.6 656.3,792.6 662.3,792.6 668.3,792.6 674.4,792.6 680.4,792.6" fill="none" stroke="none" marker-start="url(#mp110)" marker-mid="url(#mp110)" marker-end="url(#mp110)"/>
<polyline points="76.7,792.6 82.7,792.6 88.8,792.6 94.8,792.6 100.8,792.6 106.9,792.6 112.9,792.6 119,792.6 125,792.6 131,792.6 137.1,792.6 143.1,792.6 149.1,792.6 155.2,792.6 161.2,792.6 167.3,792.6 173.3,792.6 179.3,792.6 185.4,792.6 191.4,792.6 197.4,788.2 203.5,790.8 209.5,792.6 215.6,791.1 221.6,788.2 227.6,789 233.7,787.6 239.7,789 245.7,789.4 251.8,790.8 257.8,792.6 263.8,791.7 269.9,788.2 275.9,778.2 282,785.2 288,782 294,782.9 300.1,781.7 306.1,769.4 312.1,760.1 318.2,768.5 324.2,777.3 330.3,782 336.3,786.9 342.3,791.1 348.4,792.6 354.4,792.6 360.4,792.6 366.5,792.6 372.5,792.6 378.6,792.6 384.6,792.6 390.6,792.6 396.7,791.6 402.7,790.4 408.7,789.5 414.8,789.2 420.8,789.2 426.8,789.5 432.9,789.5 438.9,789.2 445,788.7 451,788.7 457,789.2 463.1,789.2 469.1,788.1 475.1,785.7 481.2,786 487.2,785.7 493.3,779 499.3,777.6 505.3,781 511.4,780.7 517.4,778.4 523.4,777 529.5,779.6 535.5,777 541.5,767.6 547.6,763.9 553.6,770.5 559.7,774 565.7,772.2 571.7,766.9 577.8,769 583.8,773.4 589.8,772.2 595.9,768.2 601.9,769.6 608,767.3 614,767.3 620,764.3 626.1,766.4 632.1,764.7 638.1,763.4 644.2,762 650.2,754.2 656.3,754.5 662.3,753.3 668.3,755.9 674.4,752.7 680.4,750.6" fill="none" stroke="none" marker-start="url(#mb160)" marker-mid="url(#mb160)" marker-end="url(#mb160)"/>
<polyline points="76.7,897.8 82.7,897.8 88.8,897.8 94.8,897.8 100.8,897.8 106.9,897.8 112.9,897.8 119,897.8 125,897.8 131,897.8 137.1,897.8 143.1,897.8 149.1,897.8 155.2,897.8 161.2,897.8 167.3,897.8 173.3,897.8 179.3,897.8 185.4,897.8 191.4,897.8 197.4,897.8 203.5,897.8 209.5,897.8 215.6,897.8 221.6,897.8 227.6,897.8 233.7,897.8 239.7,897.8 245.7,897.8 251.8,897.8 257.8,897.8 263.8,897.8 269.9,897.8 275.9,897.8 282,897.8 288,897.8 294,897.8 300.1,897.8 306.1,897.8 312.1,897.8 318.2,897.8 324.2,897.8 330.3,897.8 336.3,897.8 342.3,897.8 348.4,897.8 354.4,897.8 360.4,896.9 366.5,897.3 372.5,896.9 378.6,896.4 384.6,895.9 390.6,896.4 396.7,895.9 402.7,895.5 408.7,895.2 414.8,894.7 420.8,892.9 426.8,892.4 432.9,892.4 438.9,892 445,891 451,891.9 457,893.1 463.1,893.7 469.1,891.4 475.1,888.9 481.2,887.2 487.2,886.8 493.3,886.8 499.3,885.4 505.3,882.6 511.4,881.4 517.4,880.5 523.4,879.7 529.5,879.1 535.5,878.4 541.5,878.8 547.6,876.7 553.6,874.4 559.7,874.1 565.7,873.1 571.7,872.2 577.8,870.4 583.8,869 589.8,868.7 595.9,866.9 601.9,864.7 608,864.7 614,864.1 620,863.8 626.1,862.6 632.1,861.7 638.1,858.2 644.2,853.8 650.2,852.9 656.3,855 662.3,857.7 668.3,856.3 674.4,854.5 680.4,851.2" fill="none" stroke="none" marker-start="url(#mo82)" marker-mid="url(#mo82)" marker-end="url(#mo82)"/>
<polyline points="76.7,897.8 82.7,897.8 88.8,897.8 94.8,897.8 100.8,897.8 106.9,897.8 112.9,897.8 119,897.8 125,897.8 131,897.8 137.1,897.8 143.1,897.8 149.1,897.8 155.2,897.8 161.2,897.8 167.3,897.8 173.3,897.8 179.3,897.8 185.4,897.8 191.4,897.8 197.4,897.8 203.5,897.8 209.5,897.8 215.6,897.8 221.6,897.8 227.6,897.8 233.7,897.8 239.7,897.8 245.7,897.8 251.8,897.8 257.8,897.8 263.8,897.8 269.9,897.8 275.9,897.8 282,897.8 288,897.8 294,897.8 300.1,897.8 306.1,897.8 312.1,897.8 318.2,897.8 324.2,897.8 330.3,897.8 336.3,897.8 342.3,897.8 348.4,897.8 354.4,897.8 360.4,897.8 366.5,897.8 372.5,897.8 378.6,897.8 384.6,897.8 390.6,897.8 396.7,897.8 402.7,897.8 408.7,897.8 414.8,897.8 420.8,897.8 426.8,897.8 432.9,897.8 438.9,897.8 445,897.8 451,897.8 457,897.8 463.1,897.8 469.1,897.8 475.1,897.8 481.2,897.8 487.2,897.8 493.3,897.8 499.3,897.8 505.3,897.8 511.4,897.8 517.4,897.8 523.4,897.8 529.5,897.8 535.5,897.8 541.5,897.8 547.6,897.8 553.6,897.8 559.7,897.8 565.7,897.8 571.7,897.8 577.8,897.8 583.8,897.8 589.8,897.8 595.9,897.8 601.9,897.8 608,897.8 614,897.8 620,897.8 626.1,897.8 632.1,897.8 638.1,897.8 644.2,897.8 650.2,897.8 656.3,897.8 662.3,897.8 668.3,897.8 674.4,897.8 680.4,897.8" fill="none" stroke="none" marker-start="url(#mg84)" marker-mid="url(#mg84)" marker-end="url(#mg84)"/>
<polyline points="76.7,897.8 82.7,897.8 88.8,897.8 94.8,897.8 100.8,897.8 106.9,897.8 112.9,897.8 119,897.8 125,897.8 131,897.8 137.1,897.8 143.1,897.8 149.1,897.8 155.2,897.8 161.2,897.8 167.3,897.8 173.3,897.8 179.3,897.8 185.4,897.8 191.4,897.8 197.4,897.8 203.5,897.8 209.5,897.8 215.6,897.8 221.6,897.8 227.6,897.8 233.7,897.8 239.7,897.8 245.7,897.8 251.8,897.8 257.8,897.8 263.8,897.8 269.9,897.8 275.9,897.8 282,897.8 288,897.8 294,897.8 300.1,897.8 306.1,897.8 312.1,897.8 318.2,897.8 324.2,897.8 330.3,897.8 336.3,897.8 342.3,897.8 348.4,897.8 354.4,897.8 360.4,897.8 366.5,897.8 372.5,897.8 378.6,897.8 384.6,897.8 390.6,897.8 396.7,897.8 402.7,897.8 408.7,897.8 414.8,897.8 420.8,897.8 426.8,897.8 432.9,897.8 438.9,897.8 445,897.8 451,897.8 457,897.8 463.1,897.8 469.1,897.8 475.1,897.8 481.2,897.8 487.2,897.8 493.3,897.8 499.3,897.8 505.3,897.8 511.4,897.8 517.4,897.8 523.4,897.8 529.5,897.8 535.5,897.8 541.5,897.8 547.6,897.8 553.6,897.8 559.7,897.8 565.7,897.8 571.7,897.8 577.8,897.8 583.8,897.8 589.8,897.8 595.9,897.8 601.9,897.8 608,897.8 614,897.8 620,897.8 626.1,897.8 632.1,897.8 638.1,897.8 644.2,897.8 650.2,897.8 656.3,897.8 662.3,897.8 668.3,897.8 674.4,897.8 680.4,897.8" fill="none" stroke="none" marker-start="url(#mp82)" marker-mid="url(#mp82)" marker-end="url(#mp82)"/>
<polyline points="76.7,897.8 82.7,897.8 88.8,897.8 94.8,897.8 100.8,897.8 106.9,897.8 112.9,897.8 119,897.8 125,897.8 131,897.8 137.1,897.8 143.1,897.8 149.1,897.8 155.2,897.8 161.2,897.8 167.3,897.8 173.3,897.8 179.3,897.8 185.4,897.8 191.4,897.8 197.4,897.8 203.5,897.8 209.5,897.8 215.6,897.8 221.6,897.8 227.6,897.8 233.7,897.8 239.7,897.8 245.7,897.8 251.8,897.8 257.8,897.8 263.8,897.8 269.9,897.8 275.9,897.8 282,897.8 288,897.8 294,897.8 300.1,897.8 306.1,897.8 312.1,897.8 318.2,897.8 324.2,897.8 330.3,897.8 336.3,897.8 342.3,893.8 348.4,896.9 354.4,897.8 360.4,897.8 366.5,897.8 372.5,897.8 378.6,895.9 384.6,894.7 390.6,896.4 396.7,896.9 402.7,897.3 408.7,893.4 414.8,894.7 420.8,895.9 426.8,896.4 432.9,896.1 438.9,895.5 445,895.1 451,894.5 457,894.2 463.1,893.7 469.1,892.8 475.1,894.5 481.2,894.5 487.2,895.1 493.3,894.5 499.3,891 505.3,890.2 511.4,890.2 517.4,889.8 523.4,888.9 529.5,886.3 535.5,885.4 541.5,884.9 547.6,886.3 553.6,884.6 559.7,881.1 565.7,878.1 571.7,877.8 577.8,880.4 583.8,880.9 589.8,879.5 595.9,879 601.9,878.1 608,875.2 614,873.9 620,872.2 626.1,872.5 632.1,871.1 638.1,868.2 644.2,870.8 650.2,872.5 656.3,869.9 662.3,866.4 668.3,861.7 674.4,860.6 680.4,864.3" fill="none" stroke="none" marker-start="url(#mb82)" marker-mid="url(#mb82)" marker-end="url(#mb82)"/>
<polyline points="76.7,1003.2 82.7,1003.2 88.8,1003.2 94.8,1003.2 100.8,1003.2 106.9,1003.2 112.9,1003.2 119,1003.2 125,1003.2 131,1003.2 137.1,1003.2 143.1,1003.2 149.1,1003.2 155.2,1003.2 161.2,1003.2 167.3,1003.2 173.3,1003.2 179.3,1003.2 185.4,1003.2 191.4,1003.2 197.4,1003.2 203.5,1003.2 209.5,1003.2 215.6,1003.2 221.6,1003.2 227.6,1003.2 233.7,1003.2 239.7,1003.2 245.7,1003.2 251.8,1003.2 257.8,1003.2 263.8,1003.2 269.9,1003.2 275.9,1003.2 282,1003.2 288,1003.2 294,1003.2 300.1,1003.2 306.1,1003.2 312.1,1003.2 318.2,1003.2 324.2,1003.2 330.3,1003.2 336.3,1003.2 342.3,1003.2 348.4,1003.2 354.4,1002.2 360.4,1001.1 366.5,1000.4 372.5,1000.4 378.6,1000.4 384.6,1000.3 390.6,999.9 396.7,999.4 402.7,997.8 408.7,996.9 414.8,996.8 420.8,996.8 426.8,996.9 432.9,996.4 438.9,995.2 445,993.3 451,991.9 457,991 463.1,990.2 469.1,989.6 475.1,988.9 481.2,987.5 487.2,986.7 493.3,985.8 499.3,984 505.3,982.3 511.4,979.7 517.4,979.1 523.4,978.4 529.5,978.4 535.5,977.9 541.5,976.5 547.6,975.6 553.6,974.4 559.7,971.8 565.7,968.3 571.7,966.7 577.8,966.7 583.8,966.5 589.8,966.5 595.9,963.9 601.9,960.9 608,960.6 614,961.4 620,960.6 626.1,958.3 632.1,956.9 638.1,954.8 644.2,954.8 650.2,953.9 656.3,951.6 662.3,949.5 668.3,949 674.4,947.4 680.4,946.9" fill="none" stroke="none" marker-start="url(#mo82)" marker-mid="url(#mo82)" marker-end="url(#mo82)"/>
<polyline points="76.7,1003.2 82.7,1003.2 88.8,1003.2 94.8,1003.2 100.8,1003.2 106.9,1003.2 112.9,1003.2 119,1003.2 125,1003.2 131,1003.2 137.1,1003.2 143.1,1003.2 149.1,1003.2 155.2,1003.2 161.2,1003.2 167.3,1003.2 173.3,1003.2 179.3,1003.2 185.4,1003.2 191.4,1003.2 197.4,1003.2 203.5,1003.2 209.5,1003.2 215.6,1003.2 221.6,1003.2 227.6,1003.2 233.7,1003.2 239.7,1003.2 245.7,1003.2 251.8,1003.2 257.8,1003.2 263.8,1003.2 269.9,1003.2 275.9,1003.2 282,1003.2 288,1003.2 294,1003.2 300.1,1003.2 306.1,1003.2 312.1,1003.2 318.2,1003.2 324.2,1003.2 330.3,1003.2 336.3,1003.2 342.3,1003.2 348.4,1003.2 354.4,1003.2 360.4,1003.2 366.5,1003.2 372.5,1003.2 378.6,1003.2 384.6,1003.2 390.6,1003.2 396.7,1003.2 402.7,1003.2 408.7,1003.2 414.8,1003.2 420.8,1003.2 426.8,1003.2 432.9,1003.2 438.9,1003.2 445,1003.2 451,1003.2 457,1003.2 463.1,1003.2 469.1,1003.2 475.1,1003.2 481.2,1003.2 487.2,1003.2 493.3,1003.2 499.3,1003.2 505.3,1003.2 511.4,1003.2 517.4,1003.2 523.4,1003.2 529.5,1003.2 535.5,1003.2 541.5,1003.2 547.6,1003.2 553.6,1003.2 559.7,1003.2 565.7,1003.2 571.7,1003.2 577.8,1003.2 583.8,1003.2 589.8,1003.2 595.9,1003.2 601.9,1003.2 608,1003.2 614,1003.2 620,1003.2 626.1,1003.2 632.1,1003.2 638.1,1003.2 644.2,1003.2 650.2,1003.2 656.3,1003.2 662.3,1003.2 668.3,1003.2 674.4,1003.2 680.4,1003.2" fill="none" stroke="none" marker-start="url(#mg84)" marker-mid="url(#mg84)" marker-end="url(#mg84)"/>
<polyline points="76.7,1003.2 82.7,1003.2 88.8,1003.2 94.8,1003.2 100.8,1003.2 106.9,1003.2 112.9,1003.2 119,1003.2 125,1003.2 131,1003.2 137.1,1003.2 143.1,1003.2 149.1,1003.2 155.2,1003.2 161.2,1003.2 167.3,1003.2 173.3,1003.2 179.3,1003.2 185.4,1003.2 191.4,1003.2 197.4,1003.2 203.5,1003.2 209.5,1003.2 215.6,1003.2 221.6,1003.2 227.6,1003.2 233.7,1003.2 239.7,1003.2 245.7,1003.2 251.8,1003.2 257.8,1003.2 263.8,1003.2 269.9,1003.2 275.9,1003.2 282,1003.2 288,1003.2 294,1003.2 300.1,1003.2 306.1,1003.2 312.1,1003.2 318.2,1003.2 324.2,1003.2 330.3,1003.2 336.3,1003.2 342.3,1003.2 348.4,1003.2 354.4,1003.2 360.4,1003.2 366.5,1003.2 372.5,1003.2 378.6,1003.2 384.6,1003.2 390.6,1003.2 396.7,1003.2 402.7,1003.2 408.7,1003.2 414.8,1003.2 420.8,1003.2 426.8,1003.2 432.9,1003.2 438.9,1003.2 445,1003.2 451,1003.2 457,1003.2 463.1,1003.2 469.1,1003.2 475.1,1003.2 481.2,1003.2 487.2,1003.2 493.3,1003.2 499.3,1003.2 505.3,1003.2 511.4,1003.2 517.4,1003.2 523.4,1003.2 529.5,1003.2 535.5,1003.2 541.5,1003.2 547.6,1003.2 553.6,1003.2 559.7,1003.2 565.7,1003.2 571.7,1003.2 577.8,1003.2 583.8,1003.2 589.8,1003.2 595.9,1003.2 601.9,1003.2 608,1003.2 614,1003.2 620,1003.2 626.1,1003.2 632.1,1003.2 638.1,1003.2 644.2,1003.2 650.2,1003.2 656.3,1003.2 662.3,1003.2 668.3,1003.2 674.4,1003.2 680.4,1003.2" fill="none" stroke="none" marker-start="url(#mp82)" marker-mid="url(#mp82)" marker-end="url(#mp82)"/>
<polyline points="76.7,1003.2 82.7,1003.2 88.8,1003.2 94.8,1003.2 100.8,1003.2 106.9,1003.2 112.9,1003.2 119,1003.2 125,1003.2 131,1003.2 137.1,1003.2 143.1,1003.2 149.1,1003.2 155.2,1003.2 161.2,1003.2 167.3,1003.2 173.3,1003.2 179.3,1003.2 185.4,1003.2 191.4,1003.2 197.4,1003.2 203.5,1003.2 209.5,1003.2 215.6,1003.2 221.6,1003.2 227.6,1003.2 233.7,1003.2 239.7,1003.2 245.7,1003.2 251.8,1003.2 257.8,1003.2 263.8,1003.2 269.9,1003.2 275.9,1003.2 282,1003.2 288,1003.2 294,1003.2 300.1,1003.2 306.1,1003.2 312.1,1003.2 318.2,1003.2 324.2,1003.2 330.3,1003.2 336.3,1003.2 342.3,1003.2 348.4,1003.2 354.4,1003.2 360.4,1003.2 366.5,1002.5 372.5,1002.5 378.6,1002.2 384.6,1002.2 390.6,1002 396.7,1001.7 402.7,1001.1 408.7,1000.8 414.8,1000.4 420.8,999.6 426.8,999 432.9,997.3 438.9,995.9 445,995.9 451,997.7 457,997.5 463.1,995.8 469.1,994.2 475.1,995.8 481.2,996.6 487.2,994 493.3,992.3 499.3,992.8 505.3,994.2 511.4,992.3 517.4,992.8 523.4,992.4 529.5,992.3 535.5,993.7 541.5,992.8 547.6,991 553.6,986.7 559.7,981.9 565.7,985.8 571.7,987.7 577.8,986.6 583.8,983.3 589.8,980.7 595.9,979.8 601.9,978.9 608,977.2 614,974.9 620,975.4 626.1,977.2 632.1,972.3 638.1,969.3 644.2,965.8 650.2,966.2 656.3,967.9 662.3,968.8 668.3,966.5 674.4,965.3 680.4,966.2" fill="none" stroke="none" marker-start="url(#mb82)" marker-mid="url(#mb82)" marker-end="url(#mb82)"/>
</g>
<g id="legend">
<line x1="83.3" y1="19.3" x2="123" y2="19.3" stroke="#FBC58C" stroke-width="1.15"/>
<rect x="101.5" y="17.9" width="2.9" height="2.9" fill="#FBC58C"/>
<line x1="83.3" y1="43.3" x2="123" y2="43.3" stroke="#8CCB8E" stroke-width="1.15"/>
<circle cx="102.9" cy="43.3" r="1.7" fill="#8CCB8E"/>
<line x1="83.3" y1="67.3" x2="123" y2="67.3" stroke="#C3AFD8" stroke-width="1.15"/>
<path d="M101 68.5L104.8 68.5L102.9 64.8Z" fill="#C3AFD8"/>
<line x1="83.3" y1="91.3" x2="123" y2="91.3" stroke="#8DB4F6" stroke-width="1.15"/>
<path d="M101 90.1L104.8 90.1L102.9 93.8Z" fill="#8DB4F6"/>
<line x1="84.3" y1="594.1" x2="125.2" y2="594.1" stroke="#FBC58C" stroke-width="1.15"/>
<rect x="103.3" y="592.7" width="2.9" height="2.9" fill="#FBC58C"/>
<line x1="84.3" y1="616.2" x2="125.2" y2="616.2" stroke="#8CCB8E" stroke-width="1.15"/>
<circle cx="104.7" cy="616.2" r="1.7" fill="#8CCB8E"/>
<line x1="84.3" y1="638.3" x2="125.2" y2="638.3" stroke="#C3AFD8" stroke-width="1.15"/>
<path d="M102.8 639.5L106.6 639.5L104.7 635.8Z" fill="#C3AFD8"/>
<line x1="84.3" y1="660.4" x2="125.2" y2="660.4" stroke="#8DB4F6" stroke-width="1.15"/>
<path d="M102.8 659.2L106.6 659.2L104.7 662.9Z" fill="#8DB4F6"/>
</g>
<g id="labels" fill="#000" stroke="#000" stroke-width="0.3">
<text x="65.8" y="15.4" font-size="17.0" text-anchor="end" stroke-width="0.45" font-family="Liberation Sans, Arial, sans-serif" textLength="18.8" lengthAdjust="spacingAndGlyphs">70</text>
<text x="65.8" y="37.2" font-size="17.0" text-anchor="end" stroke-width="0.45" font-family="Liberation Sans, Arial, sans-serif" textLength="18.8" lengthAdjust="spacingAndGlyphs">60</text>
<text x="65.8" y="59.4" font-size="17.0" text-anchor="end" stroke-width="0.45" font-family="Liberation Sans, Arial, sans-serif" textLength="18.8" lengthAdjust="spacingAndGlyphs">50</text>
<text x="65.8" y="81.8" font-size="17.0" text-anchor="end" stroke-width="0.45" font-family="Liberation Sans, Arial, sans-serif" textLength="18.8" lengthAdjust="spacingAndGlyphs">40</text>
<text x="65.8" y="103.9" font-size="17.0" text-anchor="end" stroke-width="0.45" font-family="Liberation Sans, Arial, sans-serif" textLength="18.8" lengthAdjust="spacingAndGlyphs">30</text>
<text x="65.8" y="125.6" font-size="17.0" text-anchor="end" stroke-width="0.45" font-family="Liberation Sans, Arial, sans-serif" textLength="18.8" lengthAdjust="spacingAndGlyphs">20</text>
<text x="65.8" y="145.2" font-size="17.0" text-anchor="end" stroke-width="0.45" font-family="Liberation Sans, Arial, sans-serif" textLength="18.8" lengthAdjust="spacingAndGlyphs">40</text>
<text x="65.8" y="192.8" font-size="17.0" text-anchor="end" stroke-width="0.45" font-family="Liberation Sans, Arial, sans-serif" textLength="18.8" lengthAdjust="spacingAndGlyphs">30</text>
<text x="65.8" y="240.4" font-size="17.0" text-anchor="end" stroke-width="0.45" font-family="Liberation Sans, Arial, sans-serif" textLength="18.8" lengthAdjust="spacingAndGlyphs">20</text>
<text x="65.8" y="260.2" font-size="17.0" text-anchor="end" stroke-width="0.45" font-family="Liberation Sans, Arial, sans-serif" textLength="18.8" lengthAdjust="spacingAndGlyphs">40</text>
<text x="65.8" y="307.8" font-size="17.0" text-anchor="end" stroke-width="0.45" font-family="Liberation Sans, Arial, sans-serif" textLength="18.8" lengthAdjust="spacingAndGlyphs">30</text>
<text x="65.8" y="355.4" font-size="17.0" text-anchor="end" stroke-width="0.45" font-family="Liberation Sans, Arial, sans-serif" textLength="18.8" lengthAdjust="spacingAndGlyphs">20</text>
<text x="65.8" y="369" font-size="17.0" text-anchor="end" stroke-width="0.45" font-family="Liberation Sans, Arial, sans-serif" textLength="18.8" lengthAdjust="spacingAndGlyphs">50</text>
<text x="65.8" y="403.2" font-size="17.0" text-anchor="end" stroke-width="0.45" font-family="Liberation Sans, Arial, sans-serif" textLength="18.8" lengthAdjust="spacingAndGlyphs">40</text>
<text x="65.8" y="436.7" font-size="17.0" text-anchor="end" stroke-width="0.45" font-family="Liberation Sans, Arial, sans-serif" textLength="18.8" lengthAdjust="spacingAndGlyphs">30</text>
<text x="65.8" y="470.3" font-size="17.0" text-anchor="end" stroke-width="0.45" font-family="Liberation Sans, Arial, sans-serif" textLength="18.8" lengthAdjust="spacingAndGlyphs">20</text>
<text x="66.5" y="586.9" font-size="16.0" text-anchor="end" stroke-width="0.45" font-family="Liberation Sans, Arial, sans-serif" textLength="27.2" lengthAdjust="spacingAndGlyphs">100</text>
<text x="66.5" y="600.1" font-size="16.0" text-anchor="end" stroke-width="0.45" font-family="Liberation Sans, Arial, sans-serif" textLength="18.2" lengthAdjust="spacingAndGlyphs">90</text>
<text x="66.5" y="613.3" font-size="16.0" text-anchor="end" stroke-width="0.45" font-family="Liberation Sans, Arial, sans-serif" textLength="18.2" lengthAdjust="spacingAndGlyphs">80</text>
<text x="66.5" y="626.5" font-size="16.0" text-anchor="end" stroke-width="0.45" font-family="Liberation Sans, Arial, sans-serif" textLength="18.2" lengthAdjust="spacingAndGlyphs">70</text>
<text x="66.5" y="639.7" font-size="16.0" text-anchor="end" stroke-width="0.45" font-family="Liberation Sans, Arial, sans-serif" textLength="18.2" lengthAdjust="spacingAndGlyphs">60</text>
<text x="66.5" y="652.9" font-size="16.0" text-anchor="end" stroke-width="0.45" font-family="Liberation Sans, Arial, sans-serif" textLength="18.2" lengthAdjust="spacingAndGlyphs">50</text>
<text x="66.5" y="666.1" font-size="16.0" text-anchor="end" stroke-width="0.45" font-family="Liberation Sans, Arial, sans-serif" textLength="18.2" lengthAdjust="spacingAndGlyphs">40</text>
<text x="66.5" y="679.3" font-size="16.0" text-anchor="end" stroke-width="0.45" font-family="Liberation Sans, Arial, sans-serif" textLength="18.2" lengthAdjust="spacingAndGlyphs">30</text>
<text x="66.5" y="692.5" font-size="16.0" text-anchor="end" stroke-width="0.45" font-family="Liberation Sans, Arial, sans-serif" textLength="18.2" lengthAdjust="spacingAndGlyphs">20</text>
<text x="66.5" y="710.2" font-size="16.0" text-anchor="end" stroke-width="0.45" font-family="Liberation Sans, Arial, sans-serif" textLength="18.2" lengthAdjust="spacingAndGlyphs">40</text>
<text x="66.5" y="753.7" font-size="16.0" text-anchor="end" stroke-width="0.45" font-family="Liberation Sans, Arial, sans-serif" textLength="18.2" lengthAdjust="spacingAndGlyphs">30</text>
<text x="66.5" y="797.8" font-size="16.0" text-anchor="end" stroke-width="0.45" font-family="Liberation Sans, Arial, sans-serif" textLength="18.2" lengthAdjust="spacingAndGlyphs">20</text>
<text x="66.5" y="815.6" font-size="16.0" text-anchor="end" stroke-width="0.45" font-family="Liberation Sans, Arial, sans-serif" textLength="18.2" lengthAdjust="spacingAndGlyphs">40</text>
<text x="66.5" y="859.1" font-size="16.0" text-anchor="end" stroke-width="0.45" font-family="Liberation Sans, Arial, sans-serif" textLength="18.2" lengthAdjust="spacingAndGlyphs">30</text>
<text x="66.5" y="902.8" font-size="16.0" text-anchor="end" stroke-width="0.45" font-family="Liberation Sans, Arial, sans-serif" textLength="18.2" lengthAdjust="spacingAndGlyphs">20</text>
<text x="66.5" y="915.5" font-size="16.0" text-anchor="end" stroke-width="0.45" font-family="Liberation Sans, Arial, sans-serif" textLength="18.2" lengthAdjust="spacingAndGlyphs">50</text>
<text x="66.5" y="946.9" font-size="16.0" text-anchor="end" stroke-width="0.45" font-family="Liberation Sans, Arial, sans-serif" textLength="18.2" lengthAdjust="spacingAndGlyphs">40</text>
<text x="66.5" y="977.8" font-size="16.0" text-anchor="end" stroke-width="0.45" font-family="Liberation Sans, Arial, sans-serif" textLength="18.2" lengthAdjust="spacingAndGlyphs">30</text>
<text x="66.5" y="1008.9" font-size="16.0" text-anchor="end" stroke-width="0.45" font-family="Liberation Sans, Arial, sans-serif" textLength="18.2" lengthAdjust="spacingAndGlyphs">20</text>
<text x="672.8" y="25.8" font-size="19.2" text-anchor="end" font-family="Liberation Serif, Times New Roman, serif" textLength="90.5" lengthAdjust="spacingAndGlyphs">1F staircase3</text>
<text x="672.8" y="139.1" font-size="19.2" text-anchor="end" font-family="Liberation Serif, Times New Roman, serif" textLength="90.5" lengthAdjust="spacingAndGlyphs">2F staircase3</text>
<text x="672.8" y="253.3" font-size="19.2" text-anchor="end" font-family="Liberation Serif, Times New Roman, serif" textLength="90.5" lengthAdjust="spacingAndGlyphs">3F staircase3</text>
<text x="672.8" y="368.3" font-size="19.2" text-anchor="end" font-family="Liberation Serif, Times New Roman, serif" textLength="90.5" lengthAdjust="spacingAndGlyphs">4F staircase3</text>
<text x="678.3" y="597.6" font-size="17.15" text-anchor="end" font-family="Liberation Serif, Times New Roman, serif" textLength="83.4" lengthAdjust="spacingAndGlyphs">1F escalator</text>
<text x="678.3" y="704.1" font-size="17.15" text-anchor="end" font-family="Liberation Serif, Times New Roman, serif" textLength="84.9" lengthAdjust="spacingAndGlyphs">2F escalator</text>
<text x="678.3" y="808.4" font-size="17.15" text-anchor="end" font-family="Liberation Serif, Times New Roman, serif" textLength="84.9" lengthAdjust="spacingAndGlyphs">3F escalator</text>
<text x="678.3" y="913.6" font-size="17.15" text-anchor="end" font-family="Liberation Serif, Times New Roman, serif" textLength="84.9" lengthAdjust="spacingAndGlyphs">4F escalator</text>
<text x="127.3" y="25.5" font-size="19.3" text-anchor="start" font-family="Liberation Serif, Times New Roman, serif" textLength="73.8" lengthAdjust="spacingAndGlyphs">The case 1</text>
<text x="127.3" y="49.5" font-size="19.3" text-anchor="start" font-family="Liberation Serif, Times New Roman, serif" textLength="73.8" lengthAdjust="spacingAndGlyphs">The case 2</text>
<text x="127.3" y="73.5" font-size="19.3" text-anchor="start" font-family="Liberation Serif, Times New Roman, serif" textLength="73.8" lengthAdjust="spacingAndGlyphs">The case 3</text>
<text x="127.3" y="97.5" font-size="19.3" text-anchor="start" font-family="Liberation Serif, Times New Roman, serif" textLength="73.8" lengthAdjust="spacingAndGlyphs">The case 4</text>
<text x="129.8" y="599.9" font-size="17.1" text-anchor="start" font-family="Liberation Serif, Times New Roman, serif">The case 1</text>
<text x="129.8" y="622" font-size="17.1" text-anchor="start" font-family="Liberation Serif, Times New Roman, serif">The case 2</text>
<text x="129.8" y="644.1" font-size="17.1" text-anchor="start" font-family="Liberation Serif, Times New Roman, serif">The case 3</text>
<text x="129.8" y="666.2" font-size="17.1" text-anchor="start" font-family="Liberation Serif, Times New Roman, serif">The case 4</text>
<text x="372.9" y="496.2" font-size="27.5" text-anchor="middle" font-family="Liberation Serif, Times New Roman, serif" textLength="80.4" lengthAdjust="spacingAndGlyphs">Time(s)</text>
<text x="376.2" y="530.6" font-size="25.7" text-anchor="middle" font-family="Liberation Serif, Times New Roman, serif">(a)</text>
<text x="376.2" y="1034.2" font-size="25.6" text-anchor="middle" font-family="Liberation Serif, Times New Roman, serif" textLength="81.2" lengthAdjust="spacingAndGlyphs">Time(s)</text>
<text x="378.0" y="1064.6" font-size="23.8" text-anchor="middle" font-family="Liberation Serif, Times New Roman, serif">(b)</text>
<text transform="translate(20.2,320.2) rotate(-90)" font-size="25.3" font-family="Liberation Serif, Times New Roman, serif" textLength="191" lengthAdjust="spacingAndGlyphs">Temperature(°C)</text>
<text transform="translate(22.4,872.2) rotate(-90)" font-size="25.9" font-family="Liberation Serif, Times New Roman, serif" textLength="175.3" lengthAdjust="spacingAndGlyphs">Temperature(°C)</text>
</g>
</svg>
</body></html>
